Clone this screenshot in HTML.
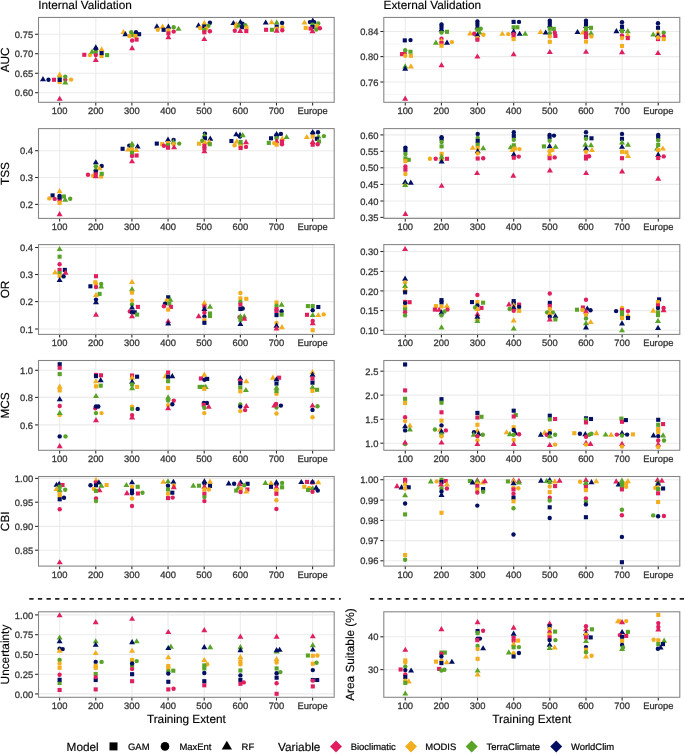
<!DOCTYPE html><html><head><meta charset="utf-8"><style>html,body{margin:0;padding:0;background:#fff;}svg{display:block;will-change:transform;}</style></head><body><svg width="685" height="754" viewBox="0 0 685 754">
<rect width="685" height="754" fill="#fff"/>
<line x1="38.5" x2="334.2" y1="34.26" y2="34.26" stroke="#EBEBEB" stroke-width="1.07"/>
<line x1="38.5" x2="334.2" y1="53.7" y2="53.7" stroke="#EBEBEB" stroke-width="1.07"/>
<line x1="38.5" x2="334.2" y1="73.3" y2="73.3" stroke="#EBEBEB" stroke-width="1.07"/>
<line x1="38.5" x2="334.2" y1="92.7" y2="92.7" stroke="#EBEBEB" stroke-width="1.07"/>
<line x1="59.64" x2="59.64" y1="17.45" y2="102.3" stroke="#EBEBEB" stroke-width="1.07"/>
<line x1="95.78" x2="95.78" y1="17.45" y2="102.3" stroke="#EBEBEB" stroke-width="1.07"/>
<line x1="131.92" x2="131.92" y1="17.45" y2="102.3" stroke="#EBEBEB" stroke-width="1.07"/>
<line x1="168.06" x2="168.06" y1="17.45" y2="102.3" stroke="#EBEBEB" stroke-width="1.07"/>
<line x1="204.20" x2="204.20" y1="17.45" y2="102.3" stroke="#EBEBEB" stroke-width="1.07"/>
<line x1="240.34" x2="240.34" y1="17.45" y2="102.3" stroke="#EBEBEB" stroke-width="1.07"/>
<line x1="276.48" x2="276.48" y1="17.45" y2="102.3" stroke="#EBEBEB" stroke-width="1.07"/>
<line x1="312.62" x2="312.62" y1="17.45" y2="102.3" stroke="#EBEBEB" stroke-width="1.07"/>
<line x1="35.10" x2="38.5" y1="34.26" y2="34.26" stroke="#262626" stroke-width="1.07"/>
<text x="33.10" y="37.86" text-anchor="end" font-size="9.4" fill="#333333" stroke="#333333" stroke-width="0.28" font-family="Liberation Sans, sans-serif" text-rendering="geometricPrecision">0.75</text>
<line x1="35.10" x2="38.5" y1="53.7" y2="53.7" stroke="#262626" stroke-width="1.07"/>
<text x="33.10" y="57.30" text-anchor="end" font-size="9.4" fill="#333333" stroke="#333333" stroke-width="0.28" font-family="Liberation Sans, sans-serif" text-rendering="geometricPrecision">0.70</text>
<line x1="35.10" x2="38.5" y1="73.3" y2="73.3" stroke="#262626" stroke-width="1.07"/>
<text x="33.10" y="76.90" text-anchor="end" font-size="9.4" fill="#333333" stroke="#333333" stroke-width="0.28" font-family="Liberation Sans, sans-serif" text-rendering="geometricPrecision">0.65</text>
<line x1="35.10" x2="38.5" y1="92.7" y2="92.7" stroke="#262626" stroke-width="1.07"/>
<text x="33.10" y="96.30" text-anchor="end" font-size="9.4" fill="#333333" stroke="#333333" stroke-width="0.28" font-family="Liberation Sans, sans-serif" text-rendering="geometricPrecision">0.60</text>
<line x1="59.64" x2="59.64" y1="102.3" y2="105.5" stroke="#262626" stroke-width="1.07"/>
<text x="59.64" y="114.10" text-anchor="middle" font-size="9.4" fill="#333333" stroke="#333333" stroke-width="0.28" font-family="Liberation Sans, sans-serif" text-rendering="geometricPrecision">100</text>
<line x1="95.78" x2="95.78" y1="102.3" y2="105.5" stroke="#262626" stroke-width="1.07"/>
<text x="95.78" y="114.10" text-anchor="middle" font-size="9.4" fill="#333333" stroke="#333333" stroke-width="0.28" font-family="Liberation Sans, sans-serif" text-rendering="geometricPrecision">200</text>
<line x1="131.92" x2="131.92" y1="102.3" y2="105.5" stroke="#262626" stroke-width="1.07"/>
<text x="131.92" y="114.10" text-anchor="middle" font-size="9.4" fill="#333333" stroke="#333333" stroke-width="0.28" font-family="Liberation Sans, sans-serif" text-rendering="geometricPrecision">300</text>
<line x1="168.06" x2="168.06" y1="102.3" y2="105.5" stroke="#262626" stroke-width="1.07"/>
<text x="168.06" y="114.10" text-anchor="middle" font-size="9.4" fill="#333333" stroke="#333333" stroke-width="0.28" font-family="Liberation Sans, sans-serif" text-rendering="geometricPrecision">400</text>
<line x1="204.20" x2="204.20" y1="102.3" y2="105.5" stroke="#262626" stroke-width="1.07"/>
<text x="204.20" y="114.10" text-anchor="middle" font-size="9.4" fill="#333333" stroke="#333333" stroke-width="0.28" font-family="Liberation Sans, sans-serif" text-rendering="geometricPrecision">500</text>
<line x1="240.34" x2="240.34" y1="102.3" y2="105.5" stroke="#262626" stroke-width="1.07"/>
<text x="240.34" y="114.10" text-anchor="middle" font-size="9.4" fill="#333333" stroke="#333333" stroke-width="0.28" font-family="Liberation Sans, sans-serif" text-rendering="geometricPrecision">600</text>
<line x1="276.48" x2="276.48" y1="102.3" y2="105.5" stroke="#262626" stroke-width="1.07"/>
<text x="276.48" y="114.10" text-anchor="middle" font-size="9.4" fill="#333333" stroke="#333333" stroke-width="0.28" font-family="Liberation Sans, sans-serif" text-rendering="geometricPrecision">700</text>
<line x1="312.62" x2="312.62" y1="102.3" y2="105.5" stroke="#262626" stroke-width="1.07"/>
<text x="312.62" y="114.10" text-anchor="middle" font-size="9.4" fill="#333333" stroke="#333333" stroke-width="0.28" font-family="Liberation Sans, sans-serif" text-rendering="geometricPrecision">Europe</text>
<path d="M43.00,76.10L46.00,81.25L40.00,81.25Z" fill="#010F62"/><circle cx="48.5" cy="79.8" r="2.2" fill="#010F62"/><rect x="51.95" y="77.75" width="4.1" height="4.1" fill="#E0205E"/><rect x="57.65" y="75.25" width="4.1" height="4.1" fill="#59A329"/><rect x="57.65" y="79.95" width="4.1" height="4.1" fill="#F2AE1E"/><path d="M59.70,71.50L62.70,76.65L56.70,76.65Z" fill="#F2AE1E"/><rect x="57.65" y="77.85" width="4.1" height="4.1" fill="#010F62"/><circle cx="65.3" cy="79.8" r="2.2" fill="#E0205E"/><circle cx="65.3" cy="76.8" r="2.2" fill="#59A329"/><path d="M65.30,79.30L68.30,84.45L62.30,84.45Z" fill="#59A329"/><circle cx="71.1" cy="79.6" r="2.2" fill="#F2AE1E"/><path d="M59.70,95.70L62.70,100.85L56.70,100.85Z" fill="#E0205E"/><rect x="82.25" y="52.75" width="4.1" height="4.1" fill="#E0205E"/><circle cx="89.9" cy="55.1" r="2.2" fill="#F2AE1E"/><path d="M92.10,48.50L95.10,53.65L89.10,53.65Z" fill="#59A329"/><path d="M95.80,44.30L98.80,49.45L92.80,49.45Z" fill="#010F62"/><circle cx="95.8" cy="49.0" r="2.2" fill="#010F62"/><rect x="93.75" y="50.45" width="4.1" height="4.1" fill="#59A329"/><circle cx="95.8" cy="55.1" r="2.2" fill="#E0205E"/><path d="M95.80,56.80L98.80,61.95L92.80,61.95Z" fill="#E0205E"/><path d="M101.60,46.30L104.60,51.45L98.60,51.45Z" fill="#F2AE1E"/><rect x="99.55" y="53.95" width="4.1" height="4.1" fill="#F2AE1E"/><rect x="99.55" y="51.05" width="4.1" height="4.1" fill="#010F62"/><rect x="105.05" y="53.05" width="4.1" height="4.1" fill="#59A329"/><path d="M123.50,28.90L126.50,34.05L120.50,34.05Z" fill="#F2AE1E"/><path d="M125.40,31.10L128.40,36.25L122.40,36.25Z" fill="#010F62"/><circle cx="131.2" cy="32.3" r="2.2" fill="#59A329"/><rect x="130.45" y="32.95" width="4.1" height="4.1" fill="#59A329"/><circle cx="129.4" cy="36.0" r="2.2" fill="#F2AE1E"/><circle cx="136.0" cy="32.3" r="2.2" fill="#010F62"/><rect x="137.05" y="32.15" width="4.1" height="4.1" fill="#010F62"/><rect x="133.35" y="33.95" width="4.1" height="4.1" fill="#F2AE1E"/><rect x="134.55" y="37.55" width="4.1" height="4.1" fill="#E0205E"/><circle cx="132.1" cy="40.5" r="2.2" fill="#E0205E"/><path d="M132.10,45.00L135.10,50.15L129.10,50.15Z" fill="#E0205E"/><path d="M156.90,23.30L159.90,28.45L153.90,28.45Z" fill="#010F62"/><circle cx="157.8" cy="29.8" r="2.2" fill="#F2AE1E"/><path d="M162.60,23.60L165.60,28.75L159.60,28.75Z" fill="#F2AE1E"/><rect x="161.55" y="27.75" width="4.1" height="4.1" fill="#010F62"/><path d="M168.40,23.60L171.40,28.75L165.40,28.75Z" fill="#010F62"/><rect x="166.35" y="28.35" width="4.1" height="4.1" fill="#F2AE1E"/><rect x="166.35" y="31.35" width="4.1" height="4.1" fill="#E0205E"/><path d="M168.40,34.00L171.40,39.15L165.40,39.15Z" fill="#E0205E"/><circle cx="173.7" cy="27.2" r="2.2" fill="#59A329"/><circle cx="173.7" cy="31.6" r="2.2" fill="#E0205E"/><path d="M178.50,25.70L181.50,30.85L175.50,30.85Z" fill="#59A329"/><path d="M198.50,22.30L201.50,27.45L195.50,27.45Z" fill="#010F62"/><path d="M204.30,20.10L207.30,25.25L201.30,25.25Z" fill="#F2AE1E"/><circle cx="209.9" cy="22.8" r="2.2" fill="#010F62"/><rect x="198.35" y="25.95" width="4.1" height="4.1" fill="#F2AE1E"/><rect x="202.25" y="24.45" width="4.1" height="4.1" fill="#010F62"/><circle cx="208.4" cy="25.8" r="2.2" fill="#59A329"/><circle cx="206.2" cy="28.4" r="2.2" fill="#F2AE1E"/><rect x="202.25" y="28.05" width="4.1" height="4.1" fill="#59A329"/><rect x="202.25" y="30.25" width="4.1" height="4.1" fill="#E0205E"/><circle cx="209.9" cy="31.2" r="2.2" fill="#E0205E"/><path d="M204.30,35.90L207.30,41.05L201.30,41.05Z" fill="#E0205E"/><path d="M233.40,19.90L236.40,25.05L230.40,25.05Z" fill="#010F62"/><path d="M236.30,20.90L239.30,26.05L233.30,26.05Z" fill="#F2AE1E"/><path d="M240.40,18.90L243.40,24.05L237.40,24.05Z" fill="#010F62"/><circle cx="242.4" cy="23.6" r="2.2" fill="#010F62"/><rect x="234.25" y="24.65" width="4.1" height="4.1" fill="#F2AE1E"/><path d="M238.90,22.30L241.90,27.45L235.90,27.45Z" fill="#59A329"/><circle cx="245.3" cy="25.2" r="2.2" fill="#59A329"/><rect x="239.85" y="25.15" width="4.1" height="4.1" fill="#010F62"/><rect x="244.45" y="25.65" width="4.1" height="4.1" fill="#F2AE1E"/><circle cx="234.8" cy="30.8" r="2.2" fill="#E0205E"/><path d="M240.20,27.80L243.20,32.95L237.20,32.95Z" fill="#E0205E"/><rect x="244.25" y="29.05" width="4.1" height="4.1" fill="#E0205E"/><path d="M265.70,19.40L268.70,24.55L262.70,24.55Z" fill="#010F62"/><path d="M271.60,19.20L274.60,24.35L268.60,24.35Z" fill="#F2AE1E"/><path d="M276.70,19.40L279.70,24.55L273.70,24.55Z" fill="#59A329"/><circle cx="282.1" cy="22.9" r="2.2" fill="#010F62"/><rect x="274.65" y="24.65" width="4.1" height="4.1" fill="#010F62"/><circle cx="282.3" cy="27.2" r="2.2" fill="#F2AE1E"/><rect x="264.05" y="27.75" width="4.1" height="4.1" fill="#E0205E"/><rect x="269.85" y="27.75" width="4.1" height="4.1" fill="#59A329"/><rect x="274.65" y="26.75" width="4.1" height="4.1" fill="#F2AE1E"/><path d="M276.70,27.60L279.70,32.75L273.70,32.75Z" fill="#E0205E"/><circle cx="282.3" cy="30.3" r="2.2" fill="#E0205E"/><path d="M304.50,19.40L307.50,24.55L301.50,24.55Z" fill="#F2AE1E"/><rect x="303.65" y="25.85" width="4.1" height="4.1" fill="#F2AE1E"/><circle cx="309.9" cy="22.1" r="2.2" fill="#010F62"/><path d="M312.80,17.50L315.80,22.65L309.80,22.65Z" fill="#010F62"/><circle cx="314.1" cy="22.1" r="2.2" fill="#010F62"/><rect x="310.45" y="22.65" width="4.1" height="4.1" fill="#59A329"/><rect x="310.45" y="24.95" width="4.1" height="4.1" fill="#010F62"/><rect x="308.55" y="26.55" width="4.1" height="4.1" fill="#E0205E"/><path d="M312.50,28.10L315.50,33.25L309.50,33.25Z" fill="#E0205E"/><circle cx="318.3" cy="23.4" r="2.2" fill="#59A329"/><circle cx="317.0" cy="26.0" r="2.2" fill="#F2AE1E"/><circle cx="316.3" cy="29.5" r="2.2" fill="#59A329"/><circle cx="319.9" cy="28.2" r="2.2" fill="#E0205E"/>
<rect x="38.5" y="17.45" width="295.70" height="84.85" fill="none" stroke="#858585" stroke-width="1.07"/>
<line x1="383.8" x2="679.8" y1="44.05" y2="44.05" stroke="#EBEBEB" stroke-width="0.55"/>
<line x1="383.8" x2="679.8" y1="69.3" y2="69.3" stroke="#EBEBEB" stroke-width="0.55"/>
<line x1="383.8" x2="679.8" y1="94.4" y2="94.4" stroke="#EBEBEB" stroke-width="0.55"/>
<line x1="383.8" x2="679.8" y1="31.5" y2="31.5" stroke="#EBEBEB" stroke-width="1.07"/>
<line x1="383.8" x2="679.8" y1="56.6" y2="56.6" stroke="#EBEBEB" stroke-width="1.07"/>
<line x1="383.8" x2="679.8" y1="82.0" y2="82.0" stroke="#EBEBEB" stroke-width="1.07"/>
<line x1="405.28" x2="405.28" y1="17.45" y2="102.3" stroke="#EBEBEB" stroke-width="1.07"/>
<line x1="441.42" x2="441.42" y1="17.45" y2="102.3" stroke="#EBEBEB" stroke-width="1.07"/>
<line x1="477.56" x2="477.56" y1="17.45" y2="102.3" stroke="#EBEBEB" stroke-width="1.07"/>
<line x1="513.70" x2="513.70" y1="17.45" y2="102.3" stroke="#EBEBEB" stroke-width="1.07"/>
<line x1="549.84" x2="549.84" y1="17.45" y2="102.3" stroke="#EBEBEB" stroke-width="1.07"/>
<line x1="585.98" x2="585.98" y1="17.45" y2="102.3" stroke="#EBEBEB" stroke-width="1.07"/>
<line x1="622.12" x2="622.12" y1="17.45" y2="102.3" stroke="#EBEBEB" stroke-width="1.07"/>
<line x1="658.26" x2="658.26" y1="17.45" y2="102.3" stroke="#EBEBEB" stroke-width="1.07"/>
<line x1="380.40" x2="383.8" y1="31.5" y2="31.5" stroke="#262626" stroke-width="1.07"/>
<text x="378.40" y="35.10" text-anchor="end" font-size="9.4" fill="#333333" stroke="#333333" stroke-width="0.28" font-family="Liberation Sans, sans-serif" text-rendering="geometricPrecision">0.84</text>
<line x1="380.40" x2="383.8" y1="56.6" y2="56.6" stroke="#262626" stroke-width="1.07"/>
<text x="378.40" y="60.20" text-anchor="end" font-size="9.4" fill="#333333" stroke="#333333" stroke-width="0.28" font-family="Liberation Sans, sans-serif" text-rendering="geometricPrecision">0.80</text>
<line x1="380.40" x2="383.8" y1="82.0" y2="82.0" stroke="#262626" stroke-width="1.07"/>
<text x="378.40" y="85.60" text-anchor="end" font-size="9.4" fill="#333333" stroke="#333333" stroke-width="0.28" font-family="Liberation Sans, sans-serif" text-rendering="geometricPrecision">0.76</text>
<line x1="405.28" x2="405.28" y1="102.3" y2="105.5" stroke="#262626" stroke-width="1.07"/>
<text x="405.28" y="114.10" text-anchor="middle" font-size="9.4" fill="#333333" stroke="#333333" stroke-width="0.28" font-family="Liberation Sans, sans-serif" text-rendering="geometricPrecision">100</text>
<line x1="441.42" x2="441.42" y1="102.3" y2="105.5" stroke="#262626" stroke-width="1.07"/>
<text x="441.42" y="114.10" text-anchor="middle" font-size="9.4" fill="#333333" stroke="#333333" stroke-width="0.28" font-family="Liberation Sans, sans-serif" text-rendering="geometricPrecision">200</text>
<line x1="477.56" x2="477.56" y1="102.3" y2="105.5" stroke="#262626" stroke-width="1.07"/>
<text x="477.56" y="114.10" text-anchor="middle" font-size="9.4" fill="#333333" stroke="#333333" stroke-width="0.28" font-family="Liberation Sans, sans-serif" text-rendering="geometricPrecision">300</text>
<line x1="513.70" x2="513.70" y1="102.3" y2="105.5" stroke="#262626" stroke-width="1.07"/>
<text x="513.70" y="114.10" text-anchor="middle" font-size="9.4" fill="#333333" stroke="#333333" stroke-width="0.28" font-family="Liberation Sans, sans-serif" text-rendering="geometricPrecision">400</text>
<line x1="549.84" x2="549.84" y1="102.3" y2="105.5" stroke="#262626" stroke-width="1.07"/>
<text x="549.84" y="114.10" text-anchor="middle" font-size="9.4" fill="#333333" stroke="#333333" stroke-width="0.28" font-family="Liberation Sans, sans-serif" text-rendering="geometricPrecision">500</text>
<line x1="585.98" x2="585.98" y1="102.3" y2="105.5" stroke="#262626" stroke-width="1.07"/>
<text x="585.98" y="114.10" text-anchor="middle" font-size="9.4" fill="#333333" stroke="#333333" stroke-width="0.28" font-family="Liberation Sans, sans-serif" text-rendering="geometricPrecision">600</text>
<line x1="622.12" x2="622.12" y1="102.3" y2="105.5" stroke="#262626" stroke-width="1.07"/>
<text x="622.12" y="114.10" text-anchor="middle" font-size="9.4" fill="#333333" stroke="#333333" stroke-width="0.28" font-family="Liberation Sans, sans-serif" text-rendering="geometricPrecision">700</text>
<line x1="658.26" x2="658.26" y1="102.3" y2="105.5" stroke="#262626" stroke-width="1.07"/>
<text x="658.26" y="114.10" text-anchor="middle" font-size="9.4" fill="#333333" stroke="#333333" stroke-width="0.28" font-family="Liberation Sans, sans-serif" text-rendering="geometricPrecision">Europe</text>
<rect x="402.75" y="38.35" width="4.1" height="4.1" fill="#010F62"/><circle cx="410.5" cy="40.1" r="2.2" fill="#010F62"/><rect x="399.95" y="52.05" width="4.1" height="4.1" fill="#E0205E"/><circle cx="404.8" cy="53.5" r="2.2" fill="#E0205E"/><circle cx="405.2" cy="50.3" r="2.2" fill="#59A329"/><rect x="408.45" y="49.75" width="4.1" height="4.1" fill="#59A329"/><circle cx="405.2" cy="55.8" r="2.2" fill="#F2AE1E"/><rect x="408.85" y="53.75" width="4.1" height="4.1" fill="#F2AE1E"/><path d="M405.20,63.30L408.20,68.45L402.20,68.45Z" fill="#59A329"/><path d="M405.20,65.60L408.20,70.75L402.20,70.75Z" fill="#010F62"/><path d="M410.90,63.30L413.90,68.45L407.90,68.45Z" fill="#F2AE1E"/><path d="M405.20,95.50L408.20,100.65L402.20,100.65Z" fill="#E0205E"/><circle cx="441.5" cy="24.4" r="2.2" fill="#010F62"/><rect x="439.45" y="25.25" width="4.1" height="4.1" fill="#010F62"/><path d="M441.50,26.30L444.50,31.45L438.50,31.45Z" fill="#010F62"/><circle cx="441.5" cy="32.6" r="2.2" fill="#59A329"/><rect x="444.95" y="29.75" width="4.1" height="4.1" fill="#59A329"/><circle cx="441.5" cy="38.7" r="2.2" fill="#E0205E"/><path d="M441.50,37.70L444.50,42.85L438.50,42.85Z" fill="#F2AE1E"/><path d="M435.90,39.60L438.90,44.75L432.90,44.75Z" fill="#59A329"/><rect x="439.45" y="40.95" width="4.1" height="4.1" fill="#E0205E"/><path d="M447.00,39.60L450.00,44.75L444.00,44.75Z" fill="#010F62"/><circle cx="451.9" cy="42.1" r="2.2" fill="#F2AE1E"/><rect x="439.45" y="43.65" width="4.1" height="4.1" fill="#F2AE1E"/><path d="M441.50,62.00L444.50,67.15L438.50,67.15Z" fill="#E0205E"/><circle cx="477.4" cy="21.5" r="2.2" fill="#010F62"/><rect x="475.35" y="22.55" width="4.1" height="4.1" fill="#010F62"/><path d="M477.40,24.00L480.40,29.15L474.40,29.15Z" fill="#010F62"/><rect x="475.35" y="27.65" width="4.1" height="4.1" fill="#59A329"/><circle cx="480.7" cy="28.7" r="2.2" fill="#59A329"/><path d="M479.60,29.40L482.60,34.55L476.60,34.55Z" fill="#59A329"/><path d="M470.10,30.30L473.10,35.45L467.10,35.45Z" fill="#F2AE1E"/><circle cx="474.2" cy="33.7" r="2.2" fill="#E0205E"/><path d="M477.40,31.80L480.40,36.95L474.40,36.95Z" fill="#010F62"/><circle cx="483.4" cy="34.8" r="2.2" fill="#F2AE1E"/><rect x="475.35" y="36.05" width="4.1" height="4.1" fill="#F2AE1E"/><rect x="475.35" y="37.65" width="4.1" height="4.1" fill="#E0205E"/><path d="M477.40,53.40L480.40,58.55L474.40,58.55Z" fill="#E0205E"/><rect x="511.55" y="19.85" width="4.1" height="4.1" fill="#010F62"/><circle cx="519.0" cy="21.9" r="2.2" fill="#010F62"/><rect x="511.55" y="25.25" width="4.1" height="4.1" fill="#59A329"/><rect x="515.35" y="25.25" width="4.1" height="4.1" fill="#59A329"/><path d="M513.60,28.30L516.60,33.45L510.60,33.45Z" fill="#010F62"/><path d="M502.30,30.70L505.30,35.85L499.30,35.85Z" fill="#F2AE1E"/><circle cx="508.2" cy="34.1" r="2.2" fill="#F2AE1E"/><rect x="511.55" y="33.85" width="4.1" height="4.1" fill="#E0205E"/><rect x="511.55" y="37.05" width="4.1" height="4.1" fill="#F2AE1E"/><circle cx="513.6" cy="34.3" r="2.2" fill="#E0205E"/><path d="M519.60,30.70L522.60,35.85L516.60,35.85Z" fill="#010F62"/><path d="M525.20,30.70L528.20,35.85L522.20,35.85Z" fill="#59A329"/><path d="M513.60,51.20L516.60,56.35L510.60,56.35Z" fill="#E0205E"/><circle cx="549.8" cy="20.8" r="2.2" fill="#010F62"/><rect x="547.75" y="21.45" width="4.1" height="4.1" fill="#010F62"/><path d="M549.80,22.40L552.80,27.55L546.80,27.55Z" fill="#010F62"/><rect x="547.75" y="26.65" width="4.1" height="4.1" fill="#59A329"/><rect x="551.75" y="26.85" width="4.1" height="4.1" fill="#59A329"/><path d="M540.50,28.90L543.50,34.05L537.50,34.05Z" fill="#F2AE1E"/><path d="M545.70,29.40L548.70,34.55L542.70,34.55Z" fill="#010F62"/><circle cx="549.8" cy="33.2" r="2.2" fill="#59A329"/><circle cx="554.8" cy="32.7" r="2.2" fill="#E0205E"/><rect x="553.35" y="33.85" width="4.1" height="4.1" fill="#E0205E"/><circle cx="549.8" cy="36.4" r="2.2" fill="#F2AE1E"/><rect x="547.75" y="39.75" width="4.1" height="4.1" fill="#F2AE1E"/><path d="M549.80,48.90L552.80,54.05L546.80,54.05Z" fill="#E0205E"/><circle cx="586.0" cy="20.8" r="2.2" fill="#010F62"/><rect x="583.95" y="21.95" width="4.1" height="4.1" fill="#010F62"/><path d="M586.00,22.90L589.00,28.05L583.00,28.05Z" fill="#010F62"/><rect x="583.95" y="26.25" width="4.1" height="4.1" fill="#59A329"/><rect x="588.95" y="25.75" width="4.1" height="4.1" fill="#59A329"/><path d="M577.50,28.90L580.50,34.05L574.50,34.05Z" fill="#010F62"/><path d="M582.90,29.40L585.90,34.55L579.90,34.55Z" fill="#F2AE1E"/><path d="M591.00,30.00L594.00,35.15L588.00,35.15Z" fill="#59A329"/><circle cx="586.0" cy="31.5" r="2.2" fill="#59A329"/><circle cx="586.0" cy="33.2" r="2.2" fill="#E0205E"/><rect x="583.95" y="33.45" width="4.1" height="4.1" fill="#E0205E"/><rect x="583.95" y="34.95" width="4.1" height="4.1" fill="#E0205E"/><circle cx="591.4" cy="36.4" r="2.2" fill="#F2AE1E"/><rect x="583.95" y="39.55" width="4.1" height="4.1" fill="#F2AE1E"/><path d="M586.00,48.70L589.00,53.85L583.00,53.85Z" fill="#E0205E"/><circle cx="622.0" cy="22.2" r="2.2" fill="#010F62"/><rect x="619.95" y="24.65" width="4.1" height="4.1" fill="#010F62"/><path d="M622.00,25.80L625.00,30.95L619.00,30.95Z" fill="#010F62"/><rect x="619.95" y="28.95" width="4.1" height="4.1" fill="#59A329"/><path d="M616.40,28.10L619.40,33.25L613.40,33.25Z" fill="#010F62"/><path d="M627.80,28.10L630.80,33.25L624.80,33.25Z" fill="#59A329"/><circle cx="622.0" cy="35.4" r="2.2" fill="#E0205E"/><circle cx="622.0" cy="38.1" r="2.2" fill="#F2AE1E"/><path d="M627.80,32.10L630.80,37.25L624.80,37.25Z" fill="#F2AE1E"/><rect x="625.75" y="36.05" width="4.1" height="4.1" fill="#E0205E"/><rect x="619.95" y="43.95" width="4.1" height="4.1" fill="#F2AE1E"/><path d="M622.00,49.10L625.00,54.25L619.00,54.25Z" fill="#E0205E"/><circle cx="658.0" cy="23.3" r="2.2" fill="#010F62"/><rect x="655.95" y="25.75" width="4.1" height="4.1" fill="#010F62"/><path d="M653.20,31.40L656.20,36.55L650.20,36.55Z" fill="#59A329"/><path d="M658.00,29.40L661.00,34.55L655.00,34.55Z" fill="#F2AE1E"/><path d="M658.00,32.10L661.00,37.25L655.00,37.25Z" fill="#010F62"/><circle cx="663.7" cy="32.7" r="2.2" fill="#59A329"/><circle cx="663.7" cy="36.4" r="2.2" fill="#E0205E"/><rect x="661.65" y="37.05" width="4.1" height="4.1" fill="#F2AE1E"/><rect x="655.95" y="37.05" width="4.1" height="4.1" fill="#E0205E"/><circle cx="658.0" cy="37.5" r="2.2" fill="#F2AE1E"/><path d="M658.00,49.90L661.00,55.05L655.00,55.05Z" fill="#E0205E"/>
<rect x="383.8" y="17.45" width="296.00" height="84.85" fill="none" stroke="#858585" stroke-width="1.07"/>
<text transform="translate(8.8,59.88) rotate(-90)" text-anchor="middle" font-size="11.8" fill="#000" stroke="#000" stroke-width="0.15" font-family="Liberation Sans, sans-serif" text-rendering="geometricPrecision">AUC</text>
<line x1="38.5" x2="334.2" y1="150.7" y2="150.7" stroke="#EBEBEB" stroke-width="1.07"/>
<line x1="38.5" x2="334.2" y1="177.5" y2="177.5" stroke="#EBEBEB" stroke-width="1.07"/>
<line x1="38.5" x2="334.2" y1="204.4" y2="204.4" stroke="#EBEBEB" stroke-width="1.07"/>
<line x1="59.64" x2="59.64" y1="128.6" y2="218.4" stroke="#EBEBEB" stroke-width="1.07"/>
<line x1="95.78" x2="95.78" y1="128.6" y2="218.4" stroke="#EBEBEB" stroke-width="1.07"/>
<line x1="131.92" x2="131.92" y1="128.6" y2="218.4" stroke="#EBEBEB" stroke-width="1.07"/>
<line x1="168.06" x2="168.06" y1="128.6" y2="218.4" stroke="#EBEBEB" stroke-width="1.07"/>
<line x1="204.20" x2="204.20" y1="128.6" y2="218.4" stroke="#EBEBEB" stroke-width="1.07"/>
<line x1="240.34" x2="240.34" y1="128.6" y2="218.4" stroke="#EBEBEB" stroke-width="1.07"/>
<line x1="276.48" x2="276.48" y1="128.6" y2="218.4" stroke="#EBEBEB" stroke-width="1.07"/>
<line x1="312.62" x2="312.62" y1="128.6" y2="218.4" stroke="#EBEBEB" stroke-width="1.07"/>
<line x1="35.10" x2="38.5" y1="150.7" y2="150.7" stroke="#262626" stroke-width="1.07"/>
<text x="33.10" y="154.30" text-anchor="end" font-size="9.4" fill="#333333" stroke="#333333" stroke-width="0.28" font-family="Liberation Sans, sans-serif" text-rendering="geometricPrecision">0.4</text>
<line x1="35.10" x2="38.5" y1="177.5" y2="177.5" stroke="#262626" stroke-width="1.07"/>
<text x="33.10" y="181.10" text-anchor="end" font-size="9.4" fill="#333333" stroke="#333333" stroke-width="0.28" font-family="Liberation Sans, sans-serif" text-rendering="geometricPrecision">0.3</text>
<line x1="35.10" x2="38.5" y1="204.4" y2="204.4" stroke="#262626" stroke-width="1.07"/>
<text x="33.10" y="208.00" text-anchor="end" font-size="9.4" fill="#333333" stroke="#333333" stroke-width="0.28" font-family="Liberation Sans, sans-serif" text-rendering="geometricPrecision">0.2</text>
<line x1="59.64" x2="59.64" y1="218.4" y2="221.6" stroke="#262626" stroke-width="1.07"/>
<text x="59.64" y="230.20" text-anchor="middle" font-size="9.4" fill="#333333" stroke="#333333" stroke-width="0.28" font-family="Liberation Sans, sans-serif" text-rendering="geometricPrecision">100</text>
<line x1="95.78" x2="95.78" y1="218.4" y2="221.6" stroke="#262626" stroke-width="1.07"/>
<text x="95.78" y="230.20" text-anchor="middle" font-size="9.4" fill="#333333" stroke="#333333" stroke-width="0.28" font-family="Liberation Sans, sans-serif" text-rendering="geometricPrecision">200</text>
<line x1="131.92" x2="131.92" y1="218.4" y2="221.6" stroke="#262626" stroke-width="1.07"/>
<text x="131.92" y="230.20" text-anchor="middle" font-size="9.4" fill="#333333" stroke="#333333" stroke-width="0.28" font-family="Liberation Sans, sans-serif" text-rendering="geometricPrecision">300</text>
<line x1="168.06" x2="168.06" y1="218.4" y2="221.6" stroke="#262626" stroke-width="1.07"/>
<text x="168.06" y="230.20" text-anchor="middle" font-size="9.4" fill="#333333" stroke="#333333" stroke-width="0.28" font-family="Liberation Sans, sans-serif" text-rendering="geometricPrecision">400</text>
<line x1="204.20" x2="204.20" y1="218.4" y2="221.6" stroke="#262626" stroke-width="1.07"/>
<text x="204.20" y="230.20" text-anchor="middle" font-size="9.4" fill="#333333" stroke="#333333" stroke-width="0.28" font-family="Liberation Sans, sans-serif" text-rendering="geometricPrecision">500</text>
<line x1="240.34" x2="240.34" y1="218.4" y2="221.6" stroke="#262626" stroke-width="1.07"/>
<text x="240.34" y="230.20" text-anchor="middle" font-size="9.4" fill="#333333" stroke="#333333" stroke-width="0.28" font-family="Liberation Sans, sans-serif" text-rendering="geometricPrecision">600</text>
<line x1="276.48" x2="276.48" y1="218.4" y2="221.6" stroke="#262626" stroke-width="1.07"/>
<text x="276.48" y="230.20" text-anchor="middle" font-size="9.4" fill="#333333" stroke="#333333" stroke-width="0.28" font-family="Liberation Sans, sans-serif" text-rendering="geometricPrecision">700</text>
<line x1="312.62" x2="312.62" y1="218.4" y2="221.6" stroke="#262626" stroke-width="1.07"/>
<text x="312.62" y="230.20" text-anchor="middle" font-size="9.4" fill="#333333" stroke="#333333" stroke-width="0.28" font-family="Liberation Sans, sans-serif" text-rendering="geometricPrecision">Europe</text>
<path d="M59.60,188.10L62.60,193.25L56.60,193.25Z" fill="#F2AE1E"/><rect x="50.55" y="193.35" width="4.1" height="4.1" fill="#010F62"/><circle cx="49.3" cy="198.4" r="2.2" fill="#F2AE1E"/><circle cx="54.7" cy="198.9" r="2.2" fill="#E0205E"/><circle cx="59.6" cy="195.9" r="2.2" fill="#010F62"/><rect x="57.55" y="197.85" width="4.1" height="4.1" fill="#E0205E"/><rect x="57.55" y="200.85" width="4.1" height="4.1" fill="#F2AE1E"/><rect x="57.55" y="195.45" width="4.1" height="4.1" fill="#010F62"/><rect x="61.85" y="194.45" width="4.1" height="4.1" fill="#59A329"/><path d="M65.20,196.50L68.20,201.65L62.20,201.65Z" fill="#59A329"/><circle cx="70.2" cy="198.8" r="2.2" fill="#59A329"/><path d="M59.60,211.00L62.60,216.15L56.60,216.15Z" fill="#E0205E"/><path d="M95.80,159.20L98.80,164.35L92.80,164.35Z" fill="#010F62"/><circle cx="95.8" cy="166.2" r="2.2" fill="#59A329"/><path d="M95.80,166.20L98.80,171.35L92.80,171.35Z" fill="#59A329"/><circle cx="101.7" cy="166.0" r="2.2" fill="#010F62"/><path d="M99.60,165.10L102.60,170.25L96.60,170.25Z" fill="#F2AE1E"/><rect x="93.75" y="169.55" width="4.1" height="4.1" fill="#010F62"/><circle cx="88.0" cy="174.8" r="2.2" fill="#E0205E"/><circle cx="93.1" cy="175.7" r="2.2" fill="#F2AE1E"/><rect x="93.75" y="172.25" width="4.1" height="4.1" fill="#E0205E"/><path d="M95.80,173.20L98.80,178.35L92.80,178.35Z" fill="#E0205E"/><rect x="99.15" y="174.45" width="4.1" height="4.1" fill="#F2AE1E"/><rect x="99.65" y="171.75" width="4.1" height="4.1" fill="#59A329"/><rect x="120.55" y="146.75" width="4.1" height="4.1" fill="#010F62"/><circle cx="129.3" cy="145.6" r="2.2" fill="#010F62"/><path d="M132.00,140.70L135.00,145.85L129.00,145.85Z" fill="#59A329"/><circle cx="132.0" cy="145.8" r="2.2" fill="#59A329"/><path d="M137.60,143.30L140.60,148.45L134.60,148.45Z" fill="#010F62"/><path d="M128.20,146.30L131.20,151.45L125.20,151.45Z" fill="#F2AE1E"/><rect x="129.95" y="147.55" width="4.1" height="4.1" fill="#F2AE1E"/><path d="M136.30,146.90L139.30,152.05L133.30,152.05Z" fill="#F2AE1E"/><rect x="129.95" y="150.75" width="4.1" height="4.1" fill="#59A329"/><circle cx="132.0" cy="156.1" r="2.2" fill="#E0205E"/><rect x="134.55" y="153.45" width="4.1" height="4.1" fill="#E0205E"/><path d="M132.00,158.20L135.00,163.35L129.00,163.35Z" fill="#E0205E"/><rect x="154.75" y="141.55" width="4.1" height="4.1" fill="#010F62"/><rect x="160.15" y="142.15" width="4.1" height="4.1" fill="#F2AE1E"/><circle cx="163.9" cy="145.8" r="2.2" fill="#E0205E"/><path d="M168.00,136.60L171.00,141.75L165.00,141.75Z" fill="#010F62"/><circle cx="173.6" cy="139.9" r="2.2" fill="#010F62"/><rect x="165.95" y="141.05" width="4.1" height="4.1" fill="#F2AE1E"/><rect x="165.95" y="143.25" width="4.1" height="4.1" fill="#59A329"/><rect x="165.95" y="145.65" width="4.1" height="4.1" fill="#E0205E"/><path d="M173.40,138.80L176.40,143.95L170.40,143.95Z" fill="#59A329"/><circle cx="173.6" cy="144.2" r="2.2" fill="#F2AE1E"/><path d="M174.10,144.20L177.10,149.35L171.10,149.35Z" fill="#E0205E"/><circle cx="179.2" cy="143.6" r="2.2" fill="#59A329"/><circle cx="204.9" cy="133.6" r="2.2" fill="#010F62"/><path d="M204.40,132.30L207.40,137.45L201.40,137.45Z" fill="#59A329"/><rect x="202.85" y="136.25" width="4.1" height="4.1" fill="#010F62"/><path d="M210.30,135.60L213.30,140.75L207.30,140.75Z" fill="#010F62"/><circle cx="202.2" cy="140.7" r="2.2" fill="#59A329"/><rect x="196.95" y="141.65" width="4.1" height="4.1" fill="#F2AE1E"/><path d="M204.90,139.30L207.90,144.45L201.90,144.45Z" fill="#F2AE1E"/><path d="M209.20,138.80L212.20,143.95L206.20,143.95Z" fill="#F2AE1E"/><rect x="207.75" y="142.15" width="4.1" height="4.1" fill="#59A329"/><rect x="202.35" y="143.75" width="4.1" height="4.1" fill="#E0205E"/><rect x="202.35" y="146.45" width="4.1" height="4.1" fill="#E0205E"/><path d="M204.40,148.20L207.40,153.35L201.40,153.35Z" fill="#E0205E"/><path d="M236.20,131.20L239.20,136.35L233.20,136.35Z" fill="#010F62"/><path d="M240.00,131.80L243.00,136.95L237.00,136.95Z" fill="#010F62"/><circle cx="240.0" cy="136.6" r="2.2" fill="#010F62"/><path d="M242.70,132.00L245.70,137.15L239.70,137.15Z" fill="#59A329"/><rect x="229.35" y="138.95" width="4.1" height="4.1" fill="#010F62"/><path d="M236.80,138.30L239.80,143.45L233.80,143.45Z" fill="#F2AE1E"/><circle cx="234.6" cy="145.3" r="2.2" fill="#F2AE1E"/><rect x="238.55" y="139.95" width="4.1" height="4.1" fill="#59A329"/><circle cx="240.6" cy="144.2" r="2.2" fill="#59A329"/><rect x="238.55" y="144.35" width="4.1" height="4.1" fill="#F2AE1E"/><rect x="238.55" y="145.95" width="4.1" height="4.1" fill="#E0205E"/><path d="M246.00,139.10L249.00,144.25L243.00,144.25Z" fill="#E0205E"/><circle cx="246.0" cy="146.9" r="2.2" fill="#E0205E"/><path d="M276.60,130.90L279.60,136.05L273.60,136.05Z" fill="#010F62"/><circle cx="280.9" cy="133.9" r="2.2" fill="#010F62"/><rect x="274.55" y="133.55" width="4.1" height="4.1" fill="#010F62"/><path d="M286.60,133.90L289.60,139.05L283.60,139.05Z" fill="#59A329"/><rect x="268.95" y="136.25" width="4.1" height="4.1" fill="#010F62"/><circle cx="276.6" cy="138.3" r="2.2" fill="#59A329"/><path d="M282.30,135.60L285.30,140.75L279.30,140.75Z" fill="#F2AE1E"/><rect x="266.75" y="140.85" width="4.1" height="4.1" fill="#59A329"/><path d="M276.60,138.00L279.60,143.15L273.60,143.15Z" fill="#E0205E"/><circle cx="274.2" cy="143.1" r="2.2" fill="#F2AE1E"/><rect x="274.55" y="142.65" width="4.1" height="4.1" fill="#F2AE1E"/><rect x="279.95" y="139.45" width="4.1" height="4.1" fill="#E0205E"/><circle cx="282.0" cy="144.2" r="2.2" fill="#E0205E"/><path d="M312.70,129.10L315.70,134.25L309.70,134.25Z" fill="#010F62"/><circle cx="312.7" cy="132.9" r="2.2" fill="#010F62"/><circle cx="318.0" cy="132.3" r="2.2" fill="#010F62"/><path d="M306.80,133.90L309.80,139.05L303.80,139.05Z" fill="#F2AE1E"/><rect x="310.65" y="134.55" width="4.1" height="4.1" fill="#F2AE1E"/><path d="M318.50,133.40L321.50,138.55L315.50,138.55Z" fill="#59A329"/><circle cx="323.9" cy="136.1" r="2.2" fill="#59A329"/><rect x="314.85" y="136.75" width="4.1" height="4.1" fill="#010F62"/><rect x="316.95" y="139.45" width="4.1" height="4.1" fill="#59A329"/><path d="M312.70,138.80L315.70,143.95L309.70,143.95Z" fill="#E0205E"/><rect x="310.65" y="142.65" width="4.1" height="4.1" fill="#E0205E"/><circle cx="317.7" cy="144.2" r="2.2" fill="#E0205E"/>
<rect x="38.5" y="128.6" width="295.70" height="89.80" fill="none" stroke="#858585" stroke-width="1.07"/>
<line x1="383.8" x2="679.8" y1="134.9" y2="134.9" stroke="#EBEBEB" stroke-width="1.07"/>
<line x1="383.8" x2="679.8" y1="151.3" y2="151.3" stroke="#EBEBEB" stroke-width="1.07"/>
<line x1="383.8" x2="679.8" y1="167.8" y2="167.8" stroke="#EBEBEB" stroke-width="1.07"/>
<line x1="383.8" x2="679.8" y1="184.4" y2="184.4" stroke="#EBEBEB" stroke-width="1.07"/>
<line x1="383.8" x2="679.8" y1="201.0" y2="201.0" stroke="#EBEBEB" stroke-width="1.07"/>
<line x1="383.8" x2="679.8" y1="217.4" y2="217.4" stroke="#EBEBEB" stroke-width="1.07"/>
<line x1="405.28" x2="405.28" y1="128.6" y2="218.4" stroke="#EBEBEB" stroke-width="1.07"/>
<line x1="441.42" x2="441.42" y1="128.6" y2="218.4" stroke="#EBEBEB" stroke-width="1.07"/>
<line x1="477.56" x2="477.56" y1="128.6" y2="218.4" stroke="#EBEBEB" stroke-width="1.07"/>
<line x1="513.70" x2="513.70" y1="128.6" y2="218.4" stroke="#EBEBEB" stroke-width="1.07"/>
<line x1="549.84" x2="549.84" y1="128.6" y2="218.4" stroke="#EBEBEB" stroke-width="1.07"/>
<line x1="585.98" x2="585.98" y1="128.6" y2="218.4" stroke="#EBEBEB" stroke-width="1.07"/>
<line x1="622.12" x2="622.12" y1="128.6" y2="218.4" stroke="#EBEBEB" stroke-width="1.07"/>
<line x1="658.26" x2="658.26" y1="128.6" y2="218.4" stroke="#EBEBEB" stroke-width="1.07"/>
<line x1="380.40" x2="383.8" y1="134.9" y2="134.9" stroke="#262626" stroke-width="1.07"/>
<text x="378.40" y="138.50" text-anchor="end" font-size="9.4" fill="#333333" stroke="#333333" stroke-width="0.28" font-family="Liberation Sans, sans-serif" text-rendering="geometricPrecision">0.60</text>
<line x1="380.40" x2="383.8" y1="151.3" y2="151.3" stroke="#262626" stroke-width="1.07"/>
<text x="378.40" y="154.90" text-anchor="end" font-size="9.4" fill="#333333" stroke="#333333" stroke-width="0.28" font-family="Liberation Sans, sans-serif" text-rendering="geometricPrecision">0.55</text>
<line x1="380.40" x2="383.8" y1="167.8" y2="167.8" stroke="#262626" stroke-width="1.07"/>
<text x="378.40" y="171.40" text-anchor="end" font-size="9.4" fill="#333333" stroke="#333333" stroke-width="0.28" font-family="Liberation Sans, sans-serif" text-rendering="geometricPrecision">0.50</text>
<line x1="380.40" x2="383.8" y1="184.4" y2="184.4" stroke="#262626" stroke-width="1.07"/>
<text x="378.40" y="188.00" text-anchor="end" font-size="9.4" fill="#333333" stroke="#333333" stroke-width="0.28" font-family="Liberation Sans, sans-serif" text-rendering="geometricPrecision">0.45</text>
<line x1="380.40" x2="383.8" y1="201.0" y2="201.0" stroke="#262626" stroke-width="1.07"/>
<text x="378.40" y="204.60" text-anchor="end" font-size="9.4" fill="#333333" stroke="#333333" stroke-width="0.28" font-family="Liberation Sans, sans-serif" text-rendering="geometricPrecision">0.40</text>
<line x1="380.40" x2="383.8" y1="217.4" y2="217.4" stroke="#262626" stroke-width="1.07"/>
<text x="378.40" y="221.00" text-anchor="end" font-size="9.4" fill="#333333" stroke="#333333" stroke-width="0.28" font-family="Liberation Sans, sans-serif" text-rendering="geometricPrecision">0.35</text>
<line x1="405.28" x2="405.28" y1="218.4" y2="221.6" stroke="#262626" stroke-width="1.07"/>
<text x="405.28" y="230.20" text-anchor="middle" font-size="9.4" fill="#333333" stroke="#333333" stroke-width="0.28" font-family="Liberation Sans, sans-serif" text-rendering="geometricPrecision">100</text>
<line x1="441.42" x2="441.42" y1="218.4" y2="221.6" stroke="#262626" stroke-width="1.07"/>
<text x="441.42" y="230.20" text-anchor="middle" font-size="9.4" fill="#333333" stroke="#333333" stroke-width="0.28" font-family="Liberation Sans, sans-serif" text-rendering="geometricPrecision">200</text>
<line x1="477.56" x2="477.56" y1="218.4" y2="221.6" stroke="#262626" stroke-width="1.07"/>
<text x="477.56" y="230.20" text-anchor="middle" font-size="9.4" fill="#333333" stroke="#333333" stroke-width="0.28" font-family="Liberation Sans, sans-serif" text-rendering="geometricPrecision">300</text>
<line x1="513.70" x2="513.70" y1="218.4" y2="221.6" stroke="#262626" stroke-width="1.07"/>
<text x="513.70" y="230.20" text-anchor="middle" font-size="9.4" fill="#333333" stroke="#333333" stroke-width="0.28" font-family="Liberation Sans, sans-serif" text-rendering="geometricPrecision">400</text>
<line x1="549.84" x2="549.84" y1="218.4" y2="221.6" stroke="#262626" stroke-width="1.07"/>
<text x="549.84" y="230.20" text-anchor="middle" font-size="9.4" fill="#333333" stroke="#333333" stroke-width="0.28" font-family="Liberation Sans, sans-serif" text-rendering="geometricPrecision">500</text>
<line x1="585.98" x2="585.98" y1="218.4" y2="221.6" stroke="#262626" stroke-width="1.07"/>
<text x="585.98" y="230.20" text-anchor="middle" font-size="9.4" fill="#333333" stroke="#333333" stroke-width="0.28" font-family="Liberation Sans, sans-serif" text-rendering="geometricPrecision">600</text>
<line x1="622.12" x2="622.12" y1="218.4" y2="221.6" stroke="#262626" stroke-width="1.07"/>
<text x="622.12" y="230.20" text-anchor="middle" font-size="9.4" fill="#333333" stroke="#333333" stroke-width="0.28" font-family="Liberation Sans, sans-serif" text-rendering="geometricPrecision">700</text>
<line x1="658.26" x2="658.26" y1="218.4" y2="221.6" stroke="#262626" stroke-width="1.07"/>
<text x="658.26" y="230.20" text-anchor="middle" font-size="9.4" fill="#333333" stroke="#333333" stroke-width="0.28" font-family="Liberation Sans, sans-serif" text-rendering="geometricPrecision">Europe</text>
<circle cx="405.4" cy="147.6" r="2.2" fill="#010F62"/><rect x="403.35" y="148.25" width="4.1" height="4.1" fill="#010F62"/><circle cx="405.4" cy="154.0" r="2.2" fill="#59A329"/><rect x="403.35" y="156.35" width="4.1" height="4.1" fill="#59A329"/><rect x="406.65" y="157.75" width="4.1" height="4.1" fill="#59A329"/><rect x="403.35" y="159.05" width="4.1" height="4.1" fill="#F2AE1E"/><circle cx="405.4" cy="166.5" r="2.2" fill="#E0205E"/><rect x="403.35" y="167.65" width="4.1" height="4.1" fill="#E0205E"/><circle cx="405.4" cy="174.0" r="2.2" fill="#F2AE1E"/><path d="M405.20,179.90L408.20,185.05L402.20,185.05Z" fill="#F2AE1E"/><path d="M405.20,178.90L408.20,184.05L402.20,184.05Z" fill="#010F62"/><path d="M405.20,181.80L408.20,186.95L402.20,186.95Z" fill="#59A329"/><path d="M410.80,179.60L413.80,184.75L407.80,184.75Z" fill="#010F62"/><path d="M405.40,210.80L408.40,215.95L402.40,215.95Z" fill="#E0205E"/><circle cx="441.6" cy="137.2" r="2.2" fill="#010F62"/><rect x="439.55" y="136.75" width="4.1" height="4.1" fill="#010F62"/><circle cx="441.6" cy="142.0" r="2.2" fill="#59A329"/><rect x="439.55" y="144.35" width="4.1" height="4.1" fill="#59A329"/><rect x="439.55" y="151.85" width="4.1" height="4.1" fill="#F2AE1E"/><circle cx="429.9" cy="158.8" r="2.2" fill="#F2AE1E"/><circle cx="435.7" cy="158.8" r="2.2" fill="#E0205E"/><path d="M441.60,155.60L444.60,160.75L438.60,160.75Z" fill="#F2AE1E"/><path d="M441.60,153.60L444.60,158.75L438.60,158.75Z" fill="#59A329"/><path d="M441.60,158.30L444.60,163.45L438.60,163.45Z" fill="#010F62"/><rect x="444.95" y="156.75" width="4.1" height="4.1" fill="#E0205E"/><path d="M441.60,182.70L444.60,187.85L438.60,187.85Z" fill="#E0205E"/><circle cx="477.7" cy="133.9" r="2.2" fill="#010F62"/><circle cx="477.7" cy="137.9" r="2.2" fill="#59A329"/><rect x="475.65" y="138.95" width="4.1" height="4.1" fill="#010F62"/><rect x="475.65" y="142.65" width="4.1" height="4.1" fill="#59A329"/><path d="M472.70,144.70L475.70,149.85L469.70,149.85Z" fill="#F2AE1E"/><path d="M483.20,145.00L486.20,150.15L480.20,150.15Z" fill="#59A329"/><rect x="475.65" y="145.95" width="4.1" height="4.1" fill="#F2AE1E"/><path d="M477.70,148.00L480.70,153.15L474.70,153.15Z" fill="#010F62"/><circle cx="477.7" cy="153.4" r="2.2" fill="#F2AE1E"/><rect x="475.65" y="156.45" width="4.1" height="4.1" fill="#E0205E"/><circle cx="483.2" cy="158.2" r="2.2" fill="#E0205E"/><path d="M477.10,169.90L480.10,175.05L474.10,175.05Z" fill="#E0205E"/><circle cx="513.8" cy="132.3" r="2.2" fill="#010F62"/><rect x="511.75" y="134.05" width="4.1" height="4.1" fill="#010F62"/><circle cx="513.8" cy="139.7" r="2.2" fill="#59A329"/><rect x="511.75" y="143.25" width="4.1" height="4.1" fill="#59A329"/><path d="M510.70,144.20L513.70,149.35L507.70,149.35Z" fill="#59A329"/><rect x="512.75" y="146.55" width="4.1" height="4.1" fill="#F2AE1E"/><path d="M512.40,146.90L515.40,152.05L509.40,152.05Z" fill="#F2AE1E"/><circle cx="519.4" cy="149.1" r="2.2" fill="#F2AE1E"/><path d="M513.80,151.20L516.80,156.35L510.80,156.35Z" fill="#010F62"/><rect x="511.75" y="155.65" width="4.1" height="4.1" fill="#E0205E"/><circle cx="518.8" cy="156.6" r="2.2" fill="#E0205E"/><path d="M513.30,172.50L516.30,177.65L510.30,177.65Z" fill="#E0205E"/><circle cx="549.6" cy="135.0" r="2.2" fill="#010F62"/><circle cx="554.0" cy="135.6" r="2.2" fill="#010F62"/><rect x="547.55" y="135.15" width="4.1" height="4.1" fill="#010F62"/><circle cx="549.6" cy="140.7" r="2.2" fill="#59A329"/><rect x="541.85" y="144.35" width="4.1" height="4.1" fill="#59A329"/><path d="M549.60,143.10L552.60,148.25L546.60,148.25Z" fill="#010F62"/><path d="M555.60,143.70L558.60,148.85L552.60,148.85Z" fill="#59A329"/><rect x="550.25" y="148.05" width="4.1" height="4.1" fill="#F2AE1E"/><circle cx="549.6" cy="151.2" r="2.2" fill="#F2AE1E"/><path d="M549.60,151.20L552.60,156.35L546.60,156.35Z" fill="#F2AE1E"/><rect x="547.55" y="156.15" width="4.1" height="4.1" fill="#E0205E"/><circle cx="554.7" cy="157.4" r="2.2" fill="#E0205E"/><path d="M549.90,167.30L552.90,172.45L546.90,172.45Z" fill="#E0205E"/><circle cx="586.0" cy="132.3" r="2.2" fill="#010F62"/><rect x="583.95" y="135.15" width="4.1" height="4.1" fill="#010F62"/><rect x="589.45" y="136.25" width="4.1" height="4.1" fill="#010F62"/><circle cx="586.0" cy="138.8" r="2.2" fill="#59A329"/><path d="M585.30,141.50L588.30,146.65L582.30,146.65Z" fill="#59A329"/><path d="M591.00,142.00L594.00,147.15L588.00,147.15Z" fill="#59A329"/><path d="M586.00,145.30L589.00,150.45L583.00,150.45Z" fill="#010F62"/><path d="M592.00,146.90L595.00,152.05L589.00,152.05Z" fill="#F2AE1E"/><circle cx="586.0" cy="151.8" r="2.2" fill="#F2AE1E"/><rect x="583.95" y="154.55" width="4.1" height="4.1" fill="#E0205E"/><circle cx="589.1" cy="156.3" r="2.2" fill="#E0205E"/><rect x="583.95" y="156.45" width="4.1" height="4.1" fill="#E0205E"/><path d="M586.10,169.90L589.10,175.05L583.10,175.05Z" fill="#E0205E"/><circle cx="622.0" cy="133.9" r="2.2" fill="#010F62"/><rect x="619.95" y="136.75" width="4.1" height="4.1" fill="#010F62"/><path d="M622.00,139.30L625.00,144.45L619.00,144.45Z" fill="#59A329"/><path d="M628.00,141.50L631.00,146.65L625.00,146.65Z" fill="#59A329"/><path d="M622.00,143.70L625.00,148.85L619.00,148.85Z" fill="#010F62"/><rect x="619.95" y="149.75" width="4.1" height="4.1" fill="#F2AE1E"/><rect x="624.25" y="150.25" width="4.1" height="4.1" fill="#F2AE1E"/><path d="M628.00,152.80L631.00,157.95L625.00,157.95Z" fill="#F2AE1E"/><rect x="619.95" y="156.15" width="4.1" height="4.1" fill="#E0205E"/><path d="M622.10,168.30L625.10,173.45L619.10,173.45Z" fill="#E0205E"/><circle cx="658.2" cy="135.0" r="2.2" fill="#010F62"/><rect x="656.15" y="134.95" width="4.1" height="4.1" fill="#010F62"/><circle cx="658.2" cy="140.3" r="2.2" fill="#59A329"/><rect x="656.15" y="142.85" width="4.1" height="4.1" fill="#59A329"/><path d="M657.10,145.40L660.10,150.55L654.10,150.55Z" fill="#59A329"/><path d="M662.90,145.40L665.90,150.55L659.90,150.55Z" fill="#F2AE1E"/><rect x="656.15" y="147.95" width="4.1" height="4.1" fill="#F2AE1E"/><path d="M658.20,151.60L661.20,156.75L655.20,156.75Z" fill="#010F62"/><rect x="656.15" y="155.95" width="4.1" height="4.1" fill="#E0205E"/><circle cx="663.7" cy="156.4" r="2.2" fill="#E0205E"/><path d="M658.20,175.50L661.20,180.65L655.20,180.65Z" fill="#E0205E"/>
<rect x="383.8" y="128.6" width="296.00" height="89.80" fill="none" stroke="#858585" stroke-width="1.07"/>
<text transform="translate(8.8,173.50) rotate(-90)" text-anchor="middle" font-size="11.8" fill="#000" stroke="#000" stroke-width="0.15" font-family="Liberation Sans, sans-serif" text-rendering="geometricPrecision">TSS</text>
<line x1="38.5" x2="334.2" y1="247.5" y2="247.5" stroke="#EBEBEB" stroke-width="1.07"/>
<line x1="38.5" x2="334.2" y1="274.5" y2="274.5" stroke="#EBEBEB" stroke-width="1.07"/>
<line x1="38.5" x2="334.2" y1="301.6" y2="301.6" stroke="#EBEBEB" stroke-width="1.07"/>
<line x1="38.5" x2="334.2" y1="329.0" y2="329.0" stroke="#EBEBEB" stroke-width="1.07"/>
<line x1="59.64" x2="59.64" y1="244.6" y2="334.4" stroke="#EBEBEB" stroke-width="1.07"/>
<line x1="95.78" x2="95.78" y1="244.6" y2="334.4" stroke="#EBEBEB" stroke-width="1.07"/>
<line x1="131.92" x2="131.92" y1="244.6" y2="334.4" stroke="#EBEBEB" stroke-width="1.07"/>
<line x1="168.06" x2="168.06" y1="244.6" y2="334.4" stroke="#EBEBEB" stroke-width="1.07"/>
<line x1="204.20" x2="204.20" y1="244.6" y2="334.4" stroke="#EBEBEB" stroke-width="1.07"/>
<line x1="240.34" x2="240.34" y1="244.6" y2="334.4" stroke="#EBEBEB" stroke-width="1.07"/>
<line x1="276.48" x2="276.48" y1="244.6" y2="334.4" stroke="#EBEBEB" stroke-width="1.07"/>
<line x1="312.62" x2="312.62" y1="244.6" y2="334.4" stroke="#EBEBEB" stroke-width="1.07"/>
<line x1="35.10" x2="38.5" y1="247.5" y2="247.5" stroke="#262626" stroke-width="1.07"/>
<text x="33.10" y="251.10" text-anchor="end" font-size="9.4" fill="#333333" stroke="#333333" stroke-width="0.28" font-family="Liberation Sans, sans-serif" text-rendering="geometricPrecision">0.4</text>
<line x1="35.10" x2="38.5" y1="274.5" y2="274.5" stroke="#262626" stroke-width="1.07"/>
<text x="33.10" y="278.10" text-anchor="end" font-size="9.4" fill="#333333" stroke="#333333" stroke-width="0.28" font-family="Liberation Sans, sans-serif" text-rendering="geometricPrecision">0.3</text>
<line x1="35.10" x2="38.5" y1="301.6" y2="301.6" stroke="#262626" stroke-width="1.07"/>
<text x="33.10" y="305.20" text-anchor="end" font-size="9.4" fill="#333333" stroke="#333333" stroke-width="0.28" font-family="Liberation Sans, sans-serif" text-rendering="geometricPrecision">0.2</text>
<line x1="35.10" x2="38.5" y1="329.0" y2="329.0" stroke="#262626" stroke-width="1.07"/>
<text x="33.10" y="332.60" text-anchor="end" font-size="9.4" fill="#333333" stroke="#333333" stroke-width="0.28" font-family="Liberation Sans, sans-serif" text-rendering="geometricPrecision">0.1</text>
<line x1="59.64" x2="59.64" y1="334.4" y2="337.59999999999997" stroke="#262626" stroke-width="1.07"/>
<text x="59.64" y="346.20" text-anchor="middle" font-size="9.4" fill="#333333" stroke="#333333" stroke-width="0.28" font-family="Liberation Sans, sans-serif" text-rendering="geometricPrecision">100</text>
<line x1="95.78" x2="95.78" y1="334.4" y2="337.59999999999997" stroke="#262626" stroke-width="1.07"/>
<text x="95.78" y="346.20" text-anchor="middle" font-size="9.4" fill="#333333" stroke="#333333" stroke-width="0.28" font-family="Liberation Sans, sans-serif" text-rendering="geometricPrecision">200</text>
<line x1="131.92" x2="131.92" y1="334.4" y2="337.59999999999997" stroke="#262626" stroke-width="1.07"/>
<text x="131.92" y="346.20" text-anchor="middle" font-size="9.4" fill="#333333" stroke="#333333" stroke-width="0.28" font-family="Liberation Sans, sans-serif" text-rendering="geometricPrecision">300</text>
<line x1="168.06" x2="168.06" y1="334.4" y2="337.59999999999997" stroke="#262626" stroke-width="1.07"/>
<text x="168.06" y="346.20" text-anchor="middle" font-size="9.4" fill="#333333" stroke="#333333" stroke-width="0.28" font-family="Liberation Sans, sans-serif" text-rendering="geometricPrecision">400</text>
<line x1="204.20" x2="204.20" y1="334.4" y2="337.59999999999997" stroke="#262626" stroke-width="1.07"/>
<text x="204.20" y="346.20" text-anchor="middle" font-size="9.4" fill="#333333" stroke="#333333" stroke-width="0.28" font-family="Liberation Sans, sans-serif" text-rendering="geometricPrecision">500</text>
<line x1="240.34" x2="240.34" y1="334.4" y2="337.59999999999997" stroke="#262626" stroke-width="1.07"/>
<text x="240.34" y="346.20" text-anchor="middle" font-size="9.4" fill="#333333" stroke="#333333" stroke-width="0.28" font-family="Liberation Sans, sans-serif" text-rendering="geometricPrecision">600</text>
<line x1="276.48" x2="276.48" y1="334.4" y2="337.59999999999997" stroke="#262626" stroke-width="1.07"/>
<text x="276.48" y="346.20" text-anchor="middle" font-size="9.4" fill="#333333" stroke="#333333" stroke-width="0.28" font-family="Liberation Sans, sans-serif" text-rendering="geometricPrecision">700</text>
<line x1="312.62" x2="312.62" y1="334.4" y2="337.59999999999997" stroke="#262626" stroke-width="1.07"/>
<text x="312.62" y="346.20" text-anchor="middle" font-size="9.4" fill="#333333" stroke="#333333" stroke-width="0.28" font-family="Liberation Sans, sans-serif" text-rendering="geometricPrecision">Europe</text>
<path d="M59.60,245.90L62.60,251.05L56.60,251.05Z" fill="#59A329"/><rect x="57.55" y="254.65" width="4.1" height="4.1" fill="#59A329"/><circle cx="59.6" cy="264.3" r="2.2" fill="#E0205E"/><rect x="62.75" y="267.85" width="4.1" height="4.1" fill="#010F62"/><rect x="57.55" y="267.85" width="4.1" height="4.1" fill="#E0205E"/><path d="M55.10,269.20L58.10,274.35L52.10,274.35Z" fill="#F2AE1E"/><circle cx="59.6" cy="273.0" r="2.2" fill="#59A329"/><path d="M65.50,269.60L68.50,274.75L62.50,274.75Z" fill="#E0205E"/><rect x="57.55" y="273.85" width="4.1" height="4.1" fill="#F2AE1E"/><circle cx="63.6" cy="276.4" r="2.2" fill="#010F62"/><path d="M59.60,276.90L62.60,282.05L56.60,282.05Z" fill="#010F62"/><rect x="93.95" y="274.15" width="4.1" height="4.1" fill="#E0205E"/><rect x="93.25" y="280.25" width="4.1" height="4.1" fill="#F2AE1E"/><circle cx="96.0" cy="284.0" r="2.2" fill="#F2AE1E"/><rect x="88.35" y="284.25" width="4.1" height="4.1" fill="#010F62"/><circle cx="96.0" cy="287.0" r="2.2" fill="#E0205E"/><circle cx="101.2" cy="284.0" r="2.2" fill="#59A329"/><path d="M101.20,283.40L104.20,288.55L98.20,288.55Z" fill="#59A329"/><rect x="97.55" y="291.85" width="4.1" height="4.1" fill="#59A329"/><path d="M96.00,291.90L99.00,297.05L93.00,297.05Z" fill="#F2AE1E"/><circle cx="96.0" cy="299.6" r="2.2" fill="#010F62"/><path d="M96.00,299.10L99.00,304.25L93.00,304.25Z" fill="#010F62"/><path d="M96.00,311.50L99.00,316.65L93.00,316.65Z" fill="#E0205E"/><path d="M132.00,278.80L135.00,283.95L129.00,283.95Z" fill="#F2AE1E"/><path d="M132.00,286.00L135.00,291.15L129.00,291.15Z" fill="#59A329"/><rect x="129.95" y="290.55" width="4.1" height="4.1" fill="#F2AE1E"/><circle cx="132.0" cy="300.6" r="2.2" fill="#F2AE1E"/><circle cx="132.0" cy="304.5" r="2.2" fill="#59A329"/><path d="M132.00,304.40L135.00,309.55L129.00,309.55Z" fill="#010F62"/><rect x="135.85" y="304.85" width="4.1" height="4.1" fill="#E0205E"/><circle cx="129.8" cy="311.4" r="2.2" fill="#E0205E"/><circle cx="132.0" cy="312.3" r="2.2" fill="#010F62"/><rect x="132.65" y="310.25" width="4.1" height="4.1" fill="#010F62"/><rect x="135.05" y="312.55" width="4.1" height="4.1" fill="#59A329"/><path d="M132.00,313.00L135.00,318.15L129.00,318.15Z" fill="#E0205E"/><rect x="166.15" y="295.25" width="4.1" height="4.1" fill="#010F62"/><path d="M170.30,296.60L173.30,301.75L167.30,301.75Z" fill="#59A329"/><circle cx="166.9" cy="300.4" r="2.2" fill="#F2AE1E"/><circle cx="165.1" cy="303.6" r="2.2" fill="#010F62"/><rect x="167.25" y="301.55" width="4.1" height="4.1" fill="#59A329"/><circle cx="163.9" cy="306.3" r="2.2" fill="#E0205E"/><rect x="168.85" y="304.85" width="4.1" height="4.1" fill="#E0205E"/><rect x="166.15" y="307.55" width="4.1" height="4.1" fill="#F2AE1E"/><path d="M168.20,318.20L171.20,323.35L165.20,323.35Z" fill="#E0205E"/><path d="M168.20,320.40L171.20,325.55L165.20,325.55Z" fill="#010F62"/><path d="M204.40,299.80L207.40,304.95L201.40,304.95Z" fill="#F2AE1E"/><rect x="202.35" y="304.55" width="4.1" height="4.1" fill="#E0205E"/><path d="M204.40,305.80L207.40,310.95L201.40,310.95Z" fill="#010F62"/><path d="M210.00,303.60L213.00,308.75L207.00,308.75Z" fill="#59A329"/><circle cx="204.4" cy="312.8" r="2.2" fill="#E0205E"/><rect x="207.95" y="311.45" width="4.1" height="4.1" fill="#59A329"/><rect x="207.95" y="313.95" width="4.1" height="4.1" fill="#59A329"/><path d="M198.70,313.00L201.70,318.15L195.70,318.15Z" fill="#E0205E"/><circle cx="204.4" cy="316.6" r="2.2" fill="#010F62"/><circle cx="204.4" cy="319.8" r="2.2" fill="#F2AE1E"/><rect x="202.35" y="320.75" width="4.1" height="4.1" fill="#010F62"/><circle cx="240.4" cy="293.0" r="2.2" fill="#F2AE1E"/><rect x="238.35" y="296.35" width="4.1" height="4.1" fill="#F2AE1E"/><rect x="244.25" y="296.75" width="4.1" height="4.1" fill="#F2AE1E"/><circle cx="240.4" cy="302.0" r="2.2" fill="#59A329"/><rect x="238.35" y="302.65" width="4.1" height="4.1" fill="#E0205E"/><rect x="238.35" y="306.95" width="4.1" height="4.1" fill="#010F62"/><circle cx="242.7" cy="308.5" r="2.2" fill="#010F62"/><circle cx="239.5" cy="317.1" r="2.2" fill="#E0205E"/><path d="M240.40,313.30L243.40,318.45L237.40,318.45Z" fill="#59A329"/><path d="M244.30,313.30L247.30,318.45L241.30,318.45Z" fill="#59A329"/><path d="M244.30,315.50L247.30,320.65L241.30,320.65Z" fill="#E0205E"/><rect x="238.35" y="317.75" width="4.1" height="4.1" fill="#59A329"/><path d="M240.40,320.90L243.40,326.05L237.40,326.05Z" fill="#010F62"/><rect x="274.45" y="300.45" width="4.1" height="4.1" fill="#F2AE1E"/><path d="M281.60,301.60L284.60,306.75L278.60,306.75Z" fill="#59A329"/><circle cx="276.5" cy="305.7" r="2.2" fill="#59A329"/><rect x="274.45" y="307.15" width="4.1" height="4.1" fill="#E0205E"/><rect x="274.45" y="308.95" width="4.1" height="4.1" fill="#E0205E"/><circle cx="281.6" cy="311.3" r="2.2" fill="#010F62"/><rect x="279.55" y="312.55" width="4.1" height="4.1" fill="#59A329"/><rect x="274.45" y="313.05" width="4.1" height="4.1" fill="#010F62"/><circle cx="276.5" cy="323.0" r="2.2" fill="#F2AE1E"/><path d="M276.50,322.50L279.50,327.65L273.50,327.65Z" fill="#010F62"/><path d="M281.90,324.00L284.90,329.15L278.90,329.15Z" fill="#F2AE1E"/><path d="M276.50,325.40L279.50,330.55L273.50,330.55Z" fill="#E0205E"/><rect x="305.85" y="304.05" width="4.1" height="4.1" fill="#59A329"/><rect x="310.65" y="304.05" width="4.1" height="4.1" fill="#59A329"/><rect x="316.25" y="304.95" width="4.1" height="4.1" fill="#010F62"/><circle cx="312.7" cy="310.2" r="2.2" fill="#010F62"/><rect x="304.95" y="312.75" width="4.1" height="4.1" fill="#E0205E"/><path d="M312.70,311.90L315.70,317.05L309.70,317.05Z" fill="#59A329"/><path d="M318.30,311.90L321.30,317.05L315.30,317.05Z" fill="#F2AE1E"/><circle cx="323.7" cy="314.4" r="2.2" fill="#F2AE1E"/><circle cx="312.7" cy="321.0" r="2.2" fill="#E0205E"/><path d="M312.70,320.00L315.70,325.15L309.70,325.15Z" fill="#E0205E"/><rect x="310.65" y="328.15" width="4.1" height="4.1" fill="#F2AE1E"/>
<rect x="38.5" y="244.6" width="295.70" height="89.80" fill="none" stroke="#858585" stroke-width="1.07"/>
<line x1="383.8" x2="679.8" y1="251.5" y2="251.5" stroke="#EBEBEB" stroke-width="1.07"/>
<line x1="383.8" x2="679.8" y1="271.4" y2="271.4" stroke="#EBEBEB" stroke-width="1.07"/>
<line x1="383.8" x2="679.8" y1="290.9" y2="290.9" stroke="#EBEBEB" stroke-width="1.07"/>
<line x1="383.8" x2="679.8" y1="310.6" y2="310.6" stroke="#EBEBEB" stroke-width="1.07"/>
<line x1="383.8" x2="679.8" y1="330.3" y2="330.3" stroke="#EBEBEB" stroke-width="1.07"/>
<line x1="405.28" x2="405.28" y1="244.6" y2="334.4" stroke="#EBEBEB" stroke-width="1.07"/>
<line x1="441.42" x2="441.42" y1="244.6" y2="334.4" stroke="#EBEBEB" stroke-width="1.07"/>
<line x1="477.56" x2="477.56" y1="244.6" y2="334.4" stroke="#EBEBEB" stroke-width="1.07"/>
<line x1="513.70" x2="513.70" y1="244.6" y2="334.4" stroke="#EBEBEB" stroke-width="1.07"/>
<line x1="549.84" x2="549.84" y1="244.6" y2="334.4" stroke="#EBEBEB" stroke-width="1.07"/>
<line x1="585.98" x2="585.98" y1="244.6" y2="334.4" stroke="#EBEBEB" stroke-width="1.07"/>
<line x1="622.12" x2="622.12" y1="244.6" y2="334.4" stroke="#EBEBEB" stroke-width="1.07"/>
<line x1="658.26" x2="658.26" y1="244.6" y2="334.4" stroke="#EBEBEB" stroke-width="1.07"/>
<line x1="380.40" x2="383.8" y1="251.5" y2="251.5" stroke="#262626" stroke-width="1.07"/>
<text x="378.40" y="255.10" text-anchor="end" font-size="9.4" fill="#333333" stroke="#333333" stroke-width="0.28" font-family="Liberation Sans, sans-serif" text-rendering="geometricPrecision">0.30</text>
<line x1="380.40" x2="383.8" y1="271.4" y2="271.4" stroke="#262626" stroke-width="1.07"/>
<text x="378.40" y="275.00" text-anchor="end" font-size="9.4" fill="#333333" stroke="#333333" stroke-width="0.28" font-family="Liberation Sans, sans-serif" text-rendering="geometricPrecision">0.25</text>
<line x1="380.40" x2="383.8" y1="290.9" y2="290.9" stroke="#262626" stroke-width="1.07"/>
<text x="378.40" y="294.50" text-anchor="end" font-size="9.4" fill="#333333" stroke="#333333" stroke-width="0.28" font-family="Liberation Sans, sans-serif" text-rendering="geometricPrecision">0.20</text>
<line x1="380.40" x2="383.8" y1="310.6" y2="310.6" stroke="#262626" stroke-width="1.07"/>
<text x="378.40" y="314.20" text-anchor="end" font-size="9.4" fill="#333333" stroke="#333333" stroke-width="0.28" font-family="Liberation Sans, sans-serif" text-rendering="geometricPrecision">0.15</text>
<line x1="380.40" x2="383.8" y1="330.3" y2="330.3" stroke="#262626" stroke-width="1.07"/>
<text x="378.40" y="333.90" text-anchor="end" font-size="9.4" fill="#333333" stroke="#333333" stroke-width="0.28" font-family="Liberation Sans, sans-serif" text-rendering="geometricPrecision">0.10</text>
<line x1="405.28" x2="405.28" y1="334.4" y2="337.59999999999997" stroke="#262626" stroke-width="1.07"/>
<text x="405.28" y="346.20" text-anchor="middle" font-size="9.4" fill="#333333" stroke="#333333" stroke-width="0.28" font-family="Liberation Sans, sans-serif" text-rendering="geometricPrecision">100</text>
<line x1="441.42" x2="441.42" y1="334.4" y2="337.59999999999997" stroke="#262626" stroke-width="1.07"/>
<text x="441.42" y="346.20" text-anchor="middle" font-size="9.4" fill="#333333" stroke="#333333" stroke-width="0.28" font-family="Liberation Sans, sans-serif" text-rendering="geometricPrecision">200</text>
<line x1="477.56" x2="477.56" y1="334.4" y2="337.59999999999997" stroke="#262626" stroke-width="1.07"/>
<text x="477.56" y="346.20" text-anchor="middle" font-size="9.4" fill="#333333" stroke="#333333" stroke-width="0.28" font-family="Liberation Sans, sans-serif" text-rendering="geometricPrecision">300</text>
<line x1="513.70" x2="513.70" y1="334.4" y2="337.59999999999997" stroke="#262626" stroke-width="1.07"/>
<text x="513.70" y="346.20" text-anchor="middle" font-size="9.4" fill="#333333" stroke="#333333" stroke-width="0.28" font-family="Liberation Sans, sans-serif" text-rendering="geometricPrecision">400</text>
<line x1="549.84" x2="549.84" y1="334.4" y2="337.59999999999997" stroke="#262626" stroke-width="1.07"/>
<text x="549.84" y="346.20" text-anchor="middle" font-size="9.4" fill="#333333" stroke="#333333" stroke-width="0.28" font-family="Liberation Sans, sans-serif" text-rendering="geometricPrecision">500</text>
<line x1="585.98" x2="585.98" y1="334.4" y2="337.59999999999997" stroke="#262626" stroke-width="1.07"/>
<text x="585.98" y="346.20" text-anchor="middle" font-size="9.4" fill="#333333" stroke="#333333" stroke-width="0.28" font-family="Liberation Sans, sans-serif" text-rendering="geometricPrecision">600</text>
<line x1="622.12" x2="622.12" y1="334.4" y2="337.59999999999997" stroke="#262626" stroke-width="1.07"/>
<text x="622.12" y="346.20" text-anchor="middle" font-size="9.4" fill="#333333" stroke="#333333" stroke-width="0.28" font-family="Liberation Sans, sans-serif" text-rendering="geometricPrecision">700</text>
<line x1="658.26" x2="658.26" y1="334.4" y2="337.59999999999997" stroke="#262626" stroke-width="1.07"/>
<text x="658.26" y="346.20" text-anchor="middle" font-size="9.4" fill="#333333" stroke="#333333" stroke-width="0.28" font-family="Liberation Sans, sans-serif" text-rendering="geometricPrecision">Europe</text>
<path d="M405.10,245.90L408.10,251.05L402.10,251.05Z" fill="#E0205E"/><path d="M405.10,275.60L408.10,280.75L402.10,280.75Z" fill="#010F62"/><circle cx="405.1" cy="282.4" r="2.2" fill="#F2AE1E"/><path d="M405.10,282.80L408.10,287.95L402.10,287.95Z" fill="#59A329"/><path d="M405.10,286.40L408.10,291.55L402.10,291.55Z" fill="#F2AE1E"/><rect x="403.05" y="290.25" width="4.1" height="4.1" fill="#010F62"/><rect x="403.05" y="299.85" width="4.1" height="4.1" fill="#E0205E"/><rect x="407.55" y="300.15" width="4.1" height="4.1" fill="#E0205E"/><circle cx="405.1" cy="303.1" r="2.2" fill="#010F62"/><rect x="403.05" y="304.95" width="4.1" height="4.1" fill="#F2AE1E"/><rect x="403.05" y="307.35" width="4.1" height="4.1" fill="#59A329"/><circle cx="405.1" cy="312.3" r="2.2" fill="#E0205E"/><circle cx="405.1" cy="315.4" r="2.2" fill="#59A329"/><rect x="439.45" y="298.05" width="4.1" height="4.1" fill="#010F62"/><rect x="439.45" y="300.45" width="4.1" height="4.1" fill="#010F62"/><rect x="433.85" y="304.05" width="4.1" height="4.1" fill="#F2AE1E"/><path d="M446.90,302.80L449.90,307.95L443.90,307.95Z" fill="#F2AE1E"/><rect x="439.45" y="304.45" width="4.1" height="4.1" fill="#F2AE1E"/><rect x="432.85" y="307.55" width="4.1" height="4.1" fill="#E0205E"/><path d="M439.10,306.70L442.10,311.85L436.10,311.85Z" fill="#E0205E"/><circle cx="447.5" cy="309.6" r="2.2" fill="#E0205E"/><path d="M441.50,309.30L444.50,314.45L438.50,314.45Z" fill="#010F62"/><circle cx="444.5" cy="311.4" r="2.2" fill="#59A329"/><circle cx="441.5" cy="315.4" r="2.2" fill="#59A329"/><path d="M441.50,324.30L444.50,329.45L438.50,329.45Z" fill="#59A329"/><circle cx="477.4" cy="294.9" r="2.2" fill="#E0205E"/><rect x="469.95" y="300.05" width="4.1" height="4.1" fill="#010F62"/><rect x="475.35" y="300.05" width="4.1" height="4.1" fill="#F2AE1E"/><rect x="481.05" y="300.65" width="4.1" height="4.1" fill="#59A329"/><circle cx="477.4" cy="305.4" r="2.2" fill="#010F62"/><circle cx="475.1" cy="307.5" r="2.2" fill="#59A329"/><path d="M477.40,305.90L480.40,311.05L474.40,311.05Z" fill="#F2AE1E"/><rect x="479.45" y="305.85" width="4.1" height="4.1" fill="#E0205E"/><path d="M477.40,311.00L480.40,316.15L474.40,316.15Z" fill="#E0205E"/><path d="M477.40,315.50L480.40,320.65L474.40,320.65Z" fill="#F2AE1E"/><path d="M477.40,313.50L480.40,318.65L474.40,318.65Z" fill="#010F62"/><path d="M477.40,317.80L480.40,322.95L474.40,322.95Z" fill="#59A329"/><rect x="511.65" y="299.05" width="4.1" height="4.1" fill="#010F62"/><rect x="511.65" y="300.95" width="4.1" height="4.1" fill="#010F62"/><path d="M509.00,301.30L512.00,306.45L506.00,306.45Z" fill="#E0205E"/><rect x="517.05" y="302.55" width="4.1" height="4.1" fill="#E0205E"/><path d="M513.70,302.10L516.70,307.25L510.70,307.25Z" fill="#F2AE1E"/><circle cx="519.1" cy="307.0" r="2.2" fill="#010F62"/><path d="M513.70,304.30L516.70,309.45L510.70,309.45Z" fill="#010F62"/><circle cx="509.6" cy="309.0" r="2.2" fill="#59A329"/><circle cx="513.7" cy="310.8" r="2.2" fill="#E0205E"/><rect x="517.05" y="308.75" width="4.1" height="4.1" fill="#F2AE1E"/><path d="M513.70,317.30L516.70,322.45L510.70,322.45Z" fill="#F2AE1E"/><path d="M513.70,325.40L516.70,330.55L510.70,330.55Z" fill="#59A329"/><circle cx="549.8" cy="293.5" r="2.2" fill="#E0205E"/><rect x="547.75" y="300.85" width="4.1" height="4.1" fill="#010F62"/><rect x="547.75" y="303.85" width="4.1" height="4.1" fill="#E0205E"/><circle cx="549.8" cy="309.0" r="2.2" fill="#F2AE1E"/><circle cx="547.1" cy="312.4" r="2.2" fill="#59A329"/><circle cx="552.9" cy="312.4" r="2.2" fill="#59A329"/><path d="M549.80,310.30L552.80,315.45L546.80,315.45Z" fill="#F2AE1E"/><path d="M555.40,312.90L558.40,318.05L552.40,318.05Z" fill="#010F62"/><circle cx="549.8" cy="316.7" r="2.2" fill="#010F62"/><path d="M549.80,316.40L552.80,321.55L546.80,321.55Z" fill="#E0205E"/><rect x="553.35" y="317.35" width="4.1" height="4.1" fill="#59A329"/><circle cx="586.0" cy="299.8" r="2.2" fill="#E0205E"/><rect x="580.85" y="305.45" width="4.1" height="4.1" fill="#E0205E"/><path d="M587.30,305.40L590.30,310.55L584.30,310.55Z" fill="#010F62"/><rect x="574.95" y="307.65" width="4.1" height="4.1" fill="#59A329"/><circle cx="582.4" cy="310.0" r="2.2" fill="#F2AE1E"/><circle cx="590.5" cy="310.2" r="2.2" fill="#010F62"/><path d="M586.00,308.40L589.00,313.55L583.00,313.55Z" fill="#E0205E"/><circle cx="586.0" cy="314.8" r="2.2" fill="#F2AE1E"/><circle cx="586.0" cy="318.4" r="2.2" fill="#59A329"/><path d="M586.00,320.00L589.00,325.15L583.00,325.15Z" fill="#59A329"/><path d="M590.70,318.90L593.70,324.05L587.70,324.05Z" fill="#F2AE1E"/><path d="M586.00,324.30L589.00,329.45L583.00,329.45Z" fill="#010F62"/><circle cx="622.0" cy="307.9" r="2.2" fill="#F2AE1E"/><rect x="619.95" y="308.15" width="4.1" height="4.1" fill="#E0205E"/><circle cx="616.1" cy="311.1" r="2.2" fill="#010F62"/><rect x="619.95" y="310.35" width="4.1" height="4.1" fill="#59A329"/><rect x="619.95" y="313.05" width="4.1" height="4.1" fill="#59A329"/><circle cx="628.0" cy="311.1" r="2.2" fill="#E0205E"/><path d="M628.00,312.40L631.00,317.55L625.00,317.55Z" fill="#F2AE1E"/><rect x="619.95" y="315.95" width="4.1" height="4.1" fill="#F2AE1E"/><rect x="625.95" y="315.95" width="4.1" height="4.1" fill="#010F62"/><path d="M622.00,320.30L625.00,325.45L619.00,325.45Z" fill="#010F62"/><path d="M622.00,327.20L625.00,332.35L619.00,332.35Z" fill="#59A329"/><rect x="657.05" y="297.35" width="4.1" height="4.1" fill="#010F62"/><rect x="655.95" y="300.05" width="4.1" height="4.1" fill="#F2AE1E"/><rect x="655.95" y="303.35" width="4.1" height="4.1" fill="#E0205E"/><circle cx="658.0" cy="308.1" r="2.2" fill="#010F62"/><circle cx="663.6" cy="307.9" r="2.2" fill="#E0205E"/><path d="M663.60,307.00L666.60,312.15L660.60,312.15Z" fill="#E0205E"/><path d="M653.20,307.50L656.20,312.65L650.20,312.65Z" fill="#F2AE1E"/><rect x="655.95" y="310.35" width="4.1" height="4.1" fill="#59A329"/><rect x="655.95" y="313.05" width="4.1" height="4.1" fill="#59A329"/><path d="M658.00,317.80L661.00,322.95L655.00,322.95Z" fill="#59A329"/><path d="M658.00,324.80L661.00,329.95L655.00,329.95Z" fill="#010F62"/>
<rect x="383.8" y="244.6" width="296.00" height="89.80" fill="none" stroke="#858585" stroke-width="1.07"/>
<text transform="translate(8.8,289.50) rotate(-90)" text-anchor="middle" font-size="11.8" fill="#000" stroke="#000" stroke-width="0.15" font-family="Liberation Sans, sans-serif" text-rendering="geometricPrecision">OR</text>
<line x1="38.5" x2="334.2" y1="370.3" y2="370.3" stroke="#EBEBEB" stroke-width="1.07"/>
<line x1="38.5" x2="334.2" y1="397.4" y2="397.4" stroke="#EBEBEB" stroke-width="1.07"/>
<line x1="38.5" x2="334.2" y1="424.9" y2="424.9" stroke="#EBEBEB" stroke-width="1.07"/>
<line x1="59.64" x2="59.64" y1="360.5" y2="450.3" stroke="#EBEBEB" stroke-width="1.07"/>
<line x1="95.78" x2="95.78" y1="360.5" y2="450.3" stroke="#EBEBEB" stroke-width="1.07"/>
<line x1="131.92" x2="131.92" y1="360.5" y2="450.3" stroke="#EBEBEB" stroke-width="1.07"/>
<line x1="168.06" x2="168.06" y1="360.5" y2="450.3" stroke="#EBEBEB" stroke-width="1.07"/>
<line x1="204.20" x2="204.20" y1="360.5" y2="450.3" stroke="#EBEBEB" stroke-width="1.07"/>
<line x1="240.34" x2="240.34" y1="360.5" y2="450.3" stroke="#EBEBEB" stroke-width="1.07"/>
<line x1="276.48" x2="276.48" y1="360.5" y2="450.3" stroke="#EBEBEB" stroke-width="1.07"/>
<line x1="312.62" x2="312.62" y1="360.5" y2="450.3" stroke="#EBEBEB" stroke-width="1.07"/>
<line x1="35.10" x2="38.5" y1="370.3" y2="370.3" stroke="#262626" stroke-width="1.07"/>
<text x="33.10" y="373.90" text-anchor="end" font-size="9.4" fill="#333333" stroke="#333333" stroke-width="0.28" font-family="Liberation Sans, sans-serif" text-rendering="geometricPrecision">1.0</text>
<line x1="35.10" x2="38.5" y1="397.4" y2="397.4" stroke="#262626" stroke-width="1.07"/>
<text x="33.10" y="401.00" text-anchor="end" font-size="9.4" fill="#333333" stroke="#333333" stroke-width="0.28" font-family="Liberation Sans, sans-serif" text-rendering="geometricPrecision">0.8</text>
<line x1="35.10" x2="38.5" y1="424.9" y2="424.9" stroke="#262626" stroke-width="1.07"/>
<text x="33.10" y="428.50" text-anchor="end" font-size="9.4" fill="#333333" stroke="#333333" stroke-width="0.28" font-family="Liberation Sans, sans-serif" text-rendering="geometricPrecision">0.6</text>
<line x1="59.64" x2="59.64" y1="450.3" y2="453.5" stroke="#262626" stroke-width="1.07"/>
<text x="59.64" y="462.10" text-anchor="middle" font-size="9.4" fill="#333333" stroke="#333333" stroke-width="0.28" font-family="Liberation Sans, sans-serif" text-rendering="geometricPrecision">100</text>
<line x1="95.78" x2="95.78" y1="450.3" y2="453.5" stroke="#262626" stroke-width="1.07"/>
<text x="95.78" y="462.10" text-anchor="middle" font-size="9.4" fill="#333333" stroke="#333333" stroke-width="0.28" font-family="Liberation Sans, sans-serif" text-rendering="geometricPrecision">200</text>
<line x1="131.92" x2="131.92" y1="450.3" y2="453.5" stroke="#262626" stroke-width="1.07"/>
<text x="131.92" y="462.10" text-anchor="middle" font-size="9.4" fill="#333333" stroke="#333333" stroke-width="0.28" font-family="Liberation Sans, sans-serif" text-rendering="geometricPrecision">300</text>
<line x1="168.06" x2="168.06" y1="450.3" y2="453.5" stroke="#262626" stroke-width="1.07"/>
<text x="168.06" y="462.10" text-anchor="middle" font-size="9.4" fill="#333333" stroke="#333333" stroke-width="0.28" font-family="Liberation Sans, sans-serif" text-rendering="geometricPrecision">400</text>
<line x1="204.20" x2="204.20" y1="450.3" y2="453.5" stroke="#262626" stroke-width="1.07"/>
<text x="204.20" y="462.10" text-anchor="middle" font-size="9.4" fill="#333333" stroke="#333333" stroke-width="0.28" font-family="Liberation Sans, sans-serif" text-rendering="geometricPrecision">500</text>
<line x1="240.34" x2="240.34" y1="450.3" y2="453.5" stroke="#262626" stroke-width="1.07"/>
<text x="240.34" y="462.10" text-anchor="middle" font-size="9.4" fill="#333333" stroke="#333333" stroke-width="0.28" font-family="Liberation Sans, sans-serif" text-rendering="geometricPrecision">600</text>
<line x1="276.48" x2="276.48" y1="450.3" y2="453.5" stroke="#262626" stroke-width="1.07"/>
<text x="276.48" y="462.10" text-anchor="middle" font-size="9.4" fill="#333333" stroke="#333333" stroke-width="0.28" font-family="Liberation Sans, sans-serif" text-rendering="geometricPrecision">700</text>
<line x1="312.62" x2="312.62" y1="450.3" y2="453.5" stroke="#262626" stroke-width="1.07"/>
<text x="312.62" y="462.10" text-anchor="middle" font-size="9.4" fill="#333333" stroke="#333333" stroke-width="0.28" font-family="Liberation Sans, sans-serif" text-rendering="geometricPrecision">Europe</text>
<rect x="57.65" y="362.15" width="4.1" height="4.1" fill="#010F62"/><rect x="57.65" y="365.75" width="4.1" height="4.1" fill="#E0205E"/><rect x="57.65" y="372.05" width="4.1" height="4.1" fill="#59A329"/><path d="M59.70,383.60L62.70,388.75L56.70,388.75Z" fill="#F2AE1E"/><rect x="57.65" y="388.35" width="4.1" height="4.1" fill="#F2AE1E"/><path d="M59.70,396.10L62.70,401.25L56.70,401.25Z" fill="#010F62"/><circle cx="59.7" cy="406.0" r="2.2" fill="#E0205E"/><circle cx="59.7" cy="414.9" r="2.2" fill="#F2AE1E"/><path d="M59.70,409.80L62.70,414.95L56.70,414.95Z" fill="#59A329"/><circle cx="59.7" cy="436.4" r="2.2" fill="#010F62"/><circle cx="65.5" cy="436.4" r="2.2" fill="#59A329"/><path d="M59.70,443.00L62.70,448.15L56.70,448.15Z" fill="#E0205E"/><rect x="93.95" y="372.85" width="4.1" height="4.1" fill="#E0205E"/><rect x="93.95" y="374.05" width="4.1" height="4.1" fill="#010F62"/><rect x="98.95" y="373.25" width="4.1" height="4.1" fill="#E0205E"/><path d="M100.70,377.00L103.70,382.15L97.70,382.15Z" fill="#010F62"/><path d="M96.00,378.20L99.00,383.35L93.00,383.35Z" fill="#F2AE1E"/><rect x="93.95" y="384.25" width="4.1" height="4.1" fill="#F2AE1E"/><rect x="98.65" y="383.65" width="4.1" height="4.1" fill="#59A329"/><path d="M96.00,392.90L99.00,398.05L93.00,398.05Z" fill="#59A329"/><circle cx="95.3" cy="408.3" r="2.2" fill="#E0205E"/><circle cx="96.0" cy="406.5" r="2.2" fill="#010F62"/><circle cx="98.3" cy="406.5" r="2.2" fill="#010F62"/><circle cx="96.0" cy="413.1" r="2.2" fill="#59A329"/><circle cx="101.5" cy="413.1" r="2.2" fill="#F2AE1E"/><path d="M96.00,417.00L99.00,422.15L93.00,422.15Z" fill="#E0205E"/><rect x="130.05" y="373.45" width="4.1" height="4.1" fill="#E0205E"/><rect x="135.05" y="374.65" width="4.1" height="4.1" fill="#010F62"/><path d="M132.10,374.60L135.10,379.75L129.10,379.75Z" fill="#F2AE1E"/><path d="M132.10,378.50L135.10,383.65L129.10,383.65Z" fill="#010F62"/><rect x="130.05" y="382.45" width="4.1" height="4.1" fill="#59A329"/><path d="M132.10,385.00L135.10,390.15L129.10,390.15Z" fill="#59A329"/><rect x="135.05" y="384.85" width="4.1" height="4.1" fill="#F2AE1E"/><circle cx="132.1" cy="406.6" r="2.2" fill="#F2AE1E"/><circle cx="132.1" cy="408.9" r="2.2" fill="#59A329"/><circle cx="137.7" cy="408.9" r="2.2" fill="#010F62"/><circle cx="132.1" cy="415.1" r="2.2" fill="#E0205E"/><path d="M132.10,414.30L135.10,419.45L129.10,419.45Z" fill="#E0205E"/><rect x="166.05" y="370.45" width="4.1" height="4.1" fill="#E0205E"/><path d="M165.50,373.10L168.50,378.25L162.50,378.25Z" fill="#F2AE1E"/><path d="M172.30,373.10L175.30,378.25L169.30,378.25Z" fill="#010F62"/><rect x="166.05" y="374.65" width="4.1" height="4.1" fill="#010F62"/><rect x="166.05" y="379.15" width="4.1" height="4.1" fill="#59A329"/><rect x="166.05" y="385.95" width="4.1" height="4.1" fill="#F2AE1E"/><path d="M168.10,394.30L171.10,399.45L165.10,399.45Z" fill="#59A329"/><circle cx="168.1" cy="400.6" r="2.2" fill="#59A329"/><circle cx="173.8" cy="400.6" r="2.2" fill="#E0205E"/><circle cx="172.3" cy="404.2" r="2.2" fill="#010F62"/><circle cx="168.1" cy="405.1" r="2.2" fill="#F2AE1E"/><path d="M168.10,405.00L171.10,410.15L165.10,410.15Z" fill="#E0205E"/><path d="M204.30,371.60L207.30,376.75L201.30,376.75Z" fill="#F2AE1E"/><rect x="198.85" y="376.45" width="4.1" height="4.1" fill="#E0205E"/><rect x="205.15" y="376.85" width="4.1" height="4.1" fill="#010F62"/><circle cx="204.5" cy="379.7" r="2.2" fill="#010F62"/><rect x="197.65" y="384.85" width="4.1" height="4.1" fill="#59A329"/><rect x="200.65" y="384.85" width="4.1" height="4.1" fill="#59A329"/><path d="M205.70,383.80L208.70,388.95L202.70,388.95Z" fill="#59A329"/><rect x="202.25" y="386.85" width="4.1" height="4.1" fill="#F2AE1E"/><circle cx="203.9" cy="403.0" r="2.2" fill="#010F62"/><circle cx="206.9" cy="403.0" r="2.2" fill="#010F62"/><rect x="201.65" y="402.75" width="4.1" height="4.1" fill="#E0205E"/><path d="M208.70,403.60L211.70,408.75L205.70,408.75Z" fill="#E0205E"/><circle cx="204.3" cy="407.7" r="2.2" fill="#59A329"/><circle cx="204.3" cy="413.1" r="2.2" fill="#F2AE1E"/><path d="M240.30,375.00L243.30,380.15L237.30,380.15Z" fill="#010F62"/><rect x="238.25" y="378.85" width="4.1" height="4.1" fill="#E0205E"/><path d="M246.30,378.20L249.30,383.35L243.30,383.35Z" fill="#F2AE1E"/><rect x="238.25" y="381.25" width="4.1" height="4.1" fill="#010F62"/><rect x="238.25" y="385.45" width="4.1" height="4.1" fill="#59A329"/><rect x="238.25" y="389.25" width="4.1" height="4.1" fill="#F2AE1E"/><path d="M245.90,386.90L248.90,392.05L242.90,392.05Z" fill="#59A329"/><circle cx="240.3" cy="404.4" r="2.2" fill="#59A329"/><circle cx="240.3" cy="406.6" r="2.2" fill="#010F62"/><path d="M246.30,402.90L249.30,408.05L243.30,408.05Z" fill="#E0205E"/><circle cx="245.1" cy="410.1" r="2.2" fill="#E0205E"/><circle cx="240.3" cy="411.1" r="2.2" fill="#F2AE1E"/><path d="M272.90,374.60L275.90,379.75L269.90,379.75Z" fill="#F2AE1E"/><rect x="277.05" y="375.65" width="4.1" height="4.1" fill="#E0205E"/><path d="M276.50,376.20L279.50,381.35L273.50,381.35Z" fill="#010F62"/><rect x="274.45" y="381.55" width="4.1" height="4.1" fill="#010F62"/><rect x="274.45" y="391.65" width="4.1" height="4.1" fill="#F2AE1E"/><rect x="274.45" y="388.95" width="4.1" height="4.1" fill="#59A329"/><path d="M276.50,384.50L279.50,389.65L273.50,389.65Z" fill="#59A329"/><circle cx="276.5" cy="407.5" r="2.2" fill="#59A329"/><circle cx="276.1" cy="403.9" r="2.2" fill="#E0205E"/><path d="M274.30,402.40L277.30,407.55L271.30,407.55Z" fill="#E0205E"/><circle cx="280.9" cy="405.6" r="2.2" fill="#010F62"/><circle cx="276.5" cy="413.5" r="2.2" fill="#F2AE1E"/><path d="M312.50,369.00L315.50,374.15L309.50,374.15Z" fill="#F2AE1E"/><path d="M312.50,371.60L315.50,376.75L309.50,376.75Z" fill="#010F62"/><rect x="310.45" y="376.45" width="4.1" height="4.1" fill="#E0205E"/><rect x="310.45" y="380.65" width="4.1" height="4.1" fill="#010F62"/><path d="M312.50,384.20L315.50,389.35L309.50,389.35Z" fill="#59A329"/><rect x="315.05" y="387.75" width="4.1" height="4.1" fill="#59A329"/><rect x="310.45" y="388.75" width="4.1" height="4.1" fill="#F2AE1E"/><path d="M312.50,402.40L315.50,407.55L309.50,407.55Z" fill="#E0205E"/><circle cx="317.5" cy="406.3" r="2.2" fill="#59A329"/><circle cx="312.5" cy="409.9" r="2.2" fill="#010F62"/><circle cx="312.5" cy="417.3" r="2.2" fill="#F2AE1E"/>
<rect x="38.5" y="360.5" width="295.70" height="89.80" fill="none" stroke="#858585" stroke-width="1.07"/>
<line x1="383.8" x2="679.8" y1="371.2" y2="371.2" stroke="#EBEBEB" stroke-width="1.07"/>
<line x1="383.8" x2="679.8" y1="395.1" y2="395.1" stroke="#EBEBEB" stroke-width="1.07"/>
<line x1="383.8" x2="679.8" y1="419.3" y2="419.3" stroke="#EBEBEB" stroke-width="1.07"/>
<line x1="383.8" x2="679.8" y1="443.2" y2="443.2" stroke="#EBEBEB" stroke-width="1.07"/>
<line x1="405.28" x2="405.28" y1="360.5" y2="450.3" stroke="#EBEBEB" stroke-width="1.07"/>
<line x1="441.42" x2="441.42" y1="360.5" y2="450.3" stroke="#EBEBEB" stroke-width="1.07"/>
<line x1="477.56" x2="477.56" y1="360.5" y2="450.3" stroke="#EBEBEB" stroke-width="1.07"/>
<line x1="513.70" x2="513.70" y1="360.5" y2="450.3" stroke="#EBEBEB" stroke-width="1.07"/>
<line x1="549.84" x2="549.84" y1="360.5" y2="450.3" stroke="#EBEBEB" stroke-width="1.07"/>
<line x1="585.98" x2="585.98" y1="360.5" y2="450.3" stroke="#EBEBEB" stroke-width="1.07"/>
<line x1="622.12" x2="622.12" y1="360.5" y2="450.3" stroke="#EBEBEB" stroke-width="1.07"/>
<line x1="658.26" x2="658.26" y1="360.5" y2="450.3" stroke="#EBEBEB" stroke-width="1.07"/>
<line x1="380.40" x2="383.8" y1="371.2" y2="371.2" stroke="#262626" stroke-width="1.07"/>
<text x="378.40" y="374.80" text-anchor="end" font-size="9.4" fill="#333333" stroke="#333333" stroke-width="0.28" font-family="Liberation Sans, sans-serif" text-rendering="geometricPrecision">2.5</text>
<line x1="380.40" x2="383.8" y1="395.1" y2="395.1" stroke="#262626" stroke-width="1.07"/>
<text x="378.40" y="398.70" text-anchor="end" font-size="9.4" fill="#333333" stroke="#333333" stroke-width="0.28" font-family="Liberation Sans, sans-serif" text-rendering="geometricPrecision">2.0</text>
<line x1="380.40" x2="383.8" y1="419.3" y2="419.3" stroke="#262626" stroke-width="1.07"/>
<text x="378.40" y="422.90" text-anchor="end" font-size="9.4" fill="#333333" stroke="#333333" stroke-width="0.28" font-family="Liberation Sans, sans-serif" text-rendering="geometricPrecision">1.5</text>
<line x1="380.40" x2="383.8" y1="443.2" y2="443.2" stroke="#262626" stroke-width="1.07"/>
<text x="378.40" y="446.80" text-anchor="end" font-size="9.4" fill="#333333" stroke="#333333" stroke-width="0.28" font-family="Liberation Sans, sans-serif" text-rendering="geometricPrecision">1.0</text>
<line x1="405.28" x2="405.28" y1="450.3" y2="453.5" stroke="#262626" stroke-width="1.07"/>
<text x="405.28" y="462.10" text-anchor="middle" font-size="9.4" fill="#333333" stroke="#333333" stroke-width="0.28" font-family="Liberation Sans, sans-serif" text-rendering="geometricPrecision">100</text>
<line x1="441.42" x2="441.42" y1="450.3" y2="453.5" stroke="#262626" stroke-width="1.07"/>
<text x="441.42" y="462.10" text-anchor="middle" font-size="9.4" fill="#333333" stroke="#333333" stroke-width="0.28" font-family="Liberation Sans, sans-serif" text-rendering="geometricPrecision">200</text>
<line x1="477.56" x2="477.56" y1="450.3" y2="453.5" stroke="#262626" stroke-width="1.07"/>
<text x="477.56" y="462.10" text-anchor="middle" font-size="9.4" fill="#333333" stroke="#333333" stroke-width="0.28" font-family="Liberation Sans, sans-serif" text-rendering="geometricPrecision">300</text>
<line x1="513.70" x2="513.70" y1="450.3" y2="453.5" stroke="#262626" stroke-width="1.07"/>
<text x="513.70" y="462.10" text-anchor="middle" font-size="9.4" fill="#333333" stroke="#333333" stroke-width="0.28" font-family="Liberation Sans, sans-serif" text-rendering="geometricPrecision">400</text>
<line x1="549.84" x2="549.84" y1="450.3" y2="453.5" stroke="#262626" stroke-width="1.07"/>
<text x="549.84" y="462.10" text-anchor="middle" font-size="9.4" fill="#333333" stroke="#333333" stroke-width="0.28" font-family="Liberation Sans, sans-serif" text-rendering="geometricPrecision">500</text>
<line x1="585.98" x2="585.98" y1="450.3" y2="453.5" stroke="#262626" stroke-width="1.07"/>
<text x="585.98" y="462.10" text-anchor="middle" font-size="9.4" fill="#333333" stroke="#333333" stroke-width="0.28" font-family="Liberation Sans, sans-serif" text-rendering="geometricPrecision">600</text>
<line x1="622.12" x2="622.12" y1="450.3" y2="453.5" stroke="#262626" stroke-width="1.07"/>
<text x="622.12" y="462.10" text-anchor="middle" font-size="9.4" fill="#333333" stroke="#333333" stroke-width="0.28" font-family="Liberation Sans, sans-serif" text-rendering="geometricPrecision">700</text>
<line x1="658.26" x2="658.26" y1="450.3" y2="453.5" stroke="#262626" stroke-width="1.07"/>
<text x="658.26" y="462.10" text-anchor="middle" font-size="9.4" fill="#333333" stroke="#333333" stroke-width="0.28" font-family="Liberation Sans, sans-serif" text-rendering="geometricPrecision">Europe</text>
<rect x="403.05" y="362.45" width="4.1" height="4.1" fill="#010F62"/><rect x="403.05" y="388.35" width="4.1" height="4.1" fill="#E0205E"/><rect x="403.05" y="396.75" width="4.1" height="4.1" fill="#59A329"/><rect x="403.05" y="400.95" width="4.1" height="4.1" fill="#F2AE1E"/><circle cx="405.1" cy="417.3" r="2.2" fill="#E0205E"/><circle cx="405.1" cy="421.1" r="2.2" fill="#F2AE1E"/><path d="M405.10,423.20L408.10,428.35L402.10,428.35Z" fill="#010F62"/><path d="M409.90,422.40L412.90,427.55L406.90,427.55Z" fill="#F2AE1E"/><path d="M409.90,426.30L412.90,431.45L406.90,431.45Z" fill="#59A329"/><circle cx="405.1" cy="430.4" r="2.2" fill="#010F62"/><circle cx="405.1" cy="444.1" r="2.2" fill="#59A329"/><path d="M405.10,439.40L408.10,444.55L402.10,444.55Z" fill="#E0205E"/><rect x="439.45" y="397.15" width="4.1" height="4.1" fill="#010F62"/><rect x="439.45" y="400.65" width="4.1" height="4.1" fill="#59A329"/><rect x="439.45" y="410.25" width="4.1" height="4.1" fill="#E0205E"/><rect x="439.45" y="418.55" width="4.1" height="4.1" fill="#F2AE1E"/><circle cx="441.5" cy="425.4" r="2.2" fill="#010F62"/><circle cx="434.9" cy="429.5" r="2.2" fill="#59A329"/><path d="M440.30,426.50L443.30,431.65L437.30,431.65Z" fill="#F2AE1E"/><path d="M441.50,428.30L444.50,433.45L438.50,433.45Z" fill="#010F62"/><circle cx="445.9" cy="430.4" r="2.2" fill="#E0205E"/><rect x="439.45" y="432.55" width="4.1" height="4.1" fill="#59A329"/><circle cx="441.5" cy="436.4" r="2.2" fill="#F2AE1E"/><path d="M441.50,439.40L444.50,444.55L438.50,444.55Z" fill="#E0205E"/><rect x="475.35" y="410.85" width="4.1" height="4.1" fill="#010F62"/><rect x="475.35" y="415.45" width="4.1" height="4.1" fill="#E0205E"/><rect x="479.45" y="414.75" width="4.1" height="4.1" fill="#59A329"/><rect x="475.35" y="422.75" width="4.1" height="4.1" fill="#F2AE1E"/><path d="M477.40,427.50L480.40,432.65L474.40,432.65Z" fill="#F2AE1E"/><circle cx="474.0" cy="432.3" r="2.2" fill="#010F62"/><path d="M473.70,431.60L476.70,436.75L470.70,436.75Z" fill="#59A329"/><path d="M478.50,430.50L481.50,435.65L475.50,435.65Z" fill="#010F62"/><circle cx="477.4" cy="436.2" r="2.2" fill="#E0205E"/><circle cx="482.8" cy="434.8" r="2.2" fill="#59A329"/><circle cx="477.4" cy="440.2" r="2.2" fill="#F2AE1E"/><path d="M477.40,440.80L480.40,445.95L474.40,445.95Z" fill="#E0205E"/><rect x="511.65" y="408.65" width="4.1" height="4.1" fill="#010F62"/><rect x="513.75" y="413.05" width="4.1" height="4.1" fill="#59A329"/><rect x="511.65" y="414.45" width="4.1" height="4.1" fill="#E0205E"/><rect x="511.65" y="425.25" width="4.1" height="4.1" fill="#F2AE1E"/><circle cx="513.7" cy="430.0" r="2.2" fill="#010F62"/><path d="M506.60,429.20L509.60,434.35L503.60,434.35Z" fill="#F2AE1E"/><path d="M509.90,431.10L512.90,436.25L506.90,436.25Z" fill="#59A329"/><path d="M515.30,430.00L518.30,435.15L512.30,435.15Z" fill="#010F62"/><circle cx="513.7" cy="434.8" r="2.2" fill="#59A329"/><circle cx="519.1" cy="434.3" r="2.2" fill="#E0205E"/><circle cx="513.7" cy="439.9" r="2.2" fill="#F2AE1E"/><path d="M513.70,440.80L516.70,445.95L510.70,445.95Z" fill="#E0205E"/><rect x="547.75" y="413.65" width="4.1" height="4.1" fill="#010F62"/><rect x="547.75" y="417.35" width="4.1" height="4.1" fill="#59A329"/><rect x="553.05" y="416.95" width="4.1" height="4.1" fill="#E0205E"/><rect x="547.75" y="428.95" width="4.1" height="4.1" fill="#F2AE1E"/><path d="M540.80,431.60L543.80,436.75L537.80,436.75Z" fill="#010F62"/><path d="M544.60,429.60L547.60,434.75L541.60,434.75Z" fill="#F2AE1E"/><circle cx="546.7" cy="434.8" r="2.2" fill="#E0205E"/><circle cx="549.8" cy="433.2" r="2.2" fill="#010F62"/><path d="M549.80,433.20L552.80,438.35L546.80,438.35Z" fill="#59A329"/><circle cx="555.1" cy="434.8" r="2.2" fill="#59A329"/><path d="M549.80,441.90L552.80,447.05L546.80,447.05Z" fill="#E0205E"/><circle cx="555.1" cy="444.6" r="2.2" fill="#F2AE1E"/><rect x="583.95" y="416.25" width="4.1" height="4.1" fill="#010F62"/><rect x="583.95" y="417.65" width="4.1" height="4.1" fill="#59A329"/><rect x="588.95" y="416.95" width="4.1" height="4.1" fill="#010F62"/><rect x="583.95" y="420.35" width="4.1" height="4.1" fill="#E0205E"/><rect x="572.25" y="431.15" width="4.1" height="4.1" fill="#F2AE1E"/><circle cx="579.9" cy="433.8" r="2.2" fill="#010F62"/><path d="M585.30,431.10L588.30,436.25L582.30,436.25Z" fill="#010F62"/><circle cx="589.2" cy="434.8" r="2.2" fill="#59A329"/><circle cx="591.4" cy="433.8" r="2.2" fill="#59A329"/><path d="M596.40,430.00L599.40,435.15L593.40,435.15Z" fill="#F2AE1E"/><circle cx="586.0" cy="436.7" r="2.2" fill="#E0205E"/><path d="M590.50,440.80L593.50,445.95L587.50,445.95Z" fill="#E0205E"/><path d="M586.00,439.80L589.00,444.95L583.00,444.95Z" fill="#E0205E"/><circle cx="586.0" cy="444.6" r="2.2" fill="#F2AE1E"/><rect x="619.35" y="416.55" width="4.1" height="4.1" fill="#59A329"/><rect x="619.95" y="419.75" width="4.1" height="4.1" fill="#E0205E"/><rect x="623.85" y="418.05" width="4.1" height="4.1" fill="#010F62"/><path d="M605.60,431.40L608.60,436.55L602.60,436.55Z" fill="#59A329"/><path d="M611.10,431.70L614.10,436.85L608.10,436.85Z" fill="#F2AE1E"/><circle cx="616.9" cy="434.6" r="2.2" fill="#E0205E"/><path d="M622.00,429.90L625.00,435.05L619.00,435.05Z" fill="#010F62"/><circle cx="622.0" cy="435.5" r="2.2" fill="#59A329"/><circle cx="627.1" cy="434.6" r="2.2" fill="#010F62"/><rect x="630.85" y="432.35" width="4.1" height="4.1" fill="#F2AE1E"/><path d="M622.00,440.80L625.00,445.95L619.00,445.95Z" fill="#E0205E"/><circle cx="622.0" cy="446.6" r="2.2" fill="#F2AE1E"/><rect x="656.15" y="417.75" width="4.1" height="4.1" fill="#010F62"/><rect x="656.15" y="422.75" width="4.1" height="4.1" fill="#59A329"/><rect x="661.05" y="422.05" width="4.1" height="4.1" fill="#E0205E"/><rect x="656.15" y="427.05" width="4.1" height="4.1" fill="#F2AE1E"/><rect x="656.15" y="429.75" width="4.1" height="4.1" fill="#F2AE1E"/><path d="M653.50,432.30L656.50,437.45L650.50,437.45Z" fill="#010F62"/><circle cx="658.2" cy="436.1" r="2.2" fill="#010F62"/><path d="M663.10,432.30L666.10,437.45L660.10,437.45Z" fill="#59A329"/><circle cx="664.0" cy="440.5" r="2.2" fill="#59A329"/><circle cx="658.2" cy="440.5" r="2.2" fill="#E0205E"/><path d="M658.20,441.30L661.20,446.45L655.20,446.45Z" fill="#E0205E"/><circle cx="658.2" cy="447.0" r="2.2" fill="#F2AE1E"/>
<rect x="383.8" y="360.5" width="296.00" height="89.80" fill="none" stroke="#858585" stroke-width="1.07"/>
<text transform="translate(8.8,405.40) rotate(-90)" text-anchor="middle" font-size="11.8" fill="#000" stroke="#000" stroke-width="0.15" font-family="Liberation Sans, sans-serif" text-rendering="geometricPrecision">MCS</text>
<line x1="38.5" x2="334.2" y1="478.4" y2="478.4" stroke="#EBEBEB" stroke-width="1.07"/>
<line x1="38.5" x2="334.2" y1="502.2" y2="502.2" stroke="#EBEBEB" stroke-width="1.07"/>
<line x1="38.5" x2="334.2" y1="526.4" y2="526.4" stroke="#EBEBEB" stroke-width="1.07"/>
<line x1="38.5" x2="334.2" y1="550.2" y2="550.2" stroke="#EBEBEB" stroke-width="1.07"/>
<line x1="59.64" x2="59.64" y1="476.5" y2="566.1" stroke="#EBEBEB" stroke-width="1.07"/>
<line x1="95.78" x2="95.78" y1="476.5" y2="566.1" stroke="#EBEBEB" stroke-width="1.07"/>
<line x1="131.92" x2="131.92" y1="476.5" y2="566.1" stroke="#EBEBEB" stroke-width="1.07"/>
<line x1="168.06" x2="168.06" y1="476.5" y2="566.1" stroke="#EBEBEB" stroke-width="1.07"/>
<line x1="204.20" x2="204.20" y1="476.5" y2="566.1" stroke="#EBEBEB" stroke-width="1.07"/>
<line x1="240.34" x2="240.34" y1="476.5" y2="566.1" stroke="#EBEBEB" stroke-width="1.07"/>
<line x1="276.48" x2="276.48" y1="476.5" y2="566.1" stroke="#EBEBEB" stroke-width="1.07"/>
<line x1="312.62" x2="312.62" y1="476.5" y2="566.1" stroke="#EBEBEB" stroke-width="1.07"/>
<line x1="35.10" x2="38.5" y1="478.4" y2="478.4" stroke="#262626" stroke-width="1.07"/>
<text x="33.10" y="482.00" text-anchor="end" font-size="9.4" fill="#333333" stroke="#333333" stroke-width="0.28" font-family="Liberation Sans, sans-serif" text-rendering="geometricPrecision">1.00</text>
<line x1="35.10" x2="38.5" y1="502.2" y2="502.2" stroke="#262626" stroke-width="1.07"/>
<text x="33.10" y="505.80" text-anchor="end" font-size="9.4" fill="#333333" stroke="#333333" stroke-width="0.28" font-family="Liberation Sans, sans-serif" text-rendering="geometricPrecision">0.95</text>
<line x1="35.10" x2="38.5" y1="526.4" y2="526.4" stroke="#262626" stroke-width="1.07"/>
<text x="33.10" y="530.00" text-anchor="end" font-size="9.4" fill="#333333" stroke="#333333" stroke-width="0.28" font-family="Liberation Sans, sans-serif" text-rendering="geometricPrecision">0.90</text>
<line x1="35.10" x2="38.5" y1="550.2" y2="550.2" stroke="#262626" stroke-width="1.07"/>
<text x="33.10" y="553.80" text-anchor="end" font-size="9.4" fill="#333333" stroke="#333333" stroke-width="0.28" font-family="Liberation Sans, sans-serif" text-rendering="geometricPrecision">0.85</text>
<line x1="59.64" x2="59.64" y1="566.1" y2="569.3000000000001" stroke="#262626" stroke-width="1.07"/>
<text x="59.64" y="577.90" text-anchor="middle" font-size="9.4" fill="#333333" stroke="#333333" stroke-width="0.28" font-family="Liberation Sans, sans-serif" text-rendering="geometricPrecision">100</text>
<line x1="95.78" x2="95.78" y1="566.1" y2="569.3000000000001" stroke="#262626" stroke-width="1.07"/>
<text x="95.78" y="577.90" text-anchor="middle" font-size="9.4" fill="#333333" stroke="#333333" stroke-width="0.28" font-family="Liberation Sans, sans-serif" text-rendering="geometricPrecision">200</text>
<line x1="131.92" x2="131.92" y1="566.1" y2="569.3000000000001" stroke="#262626" stroke-width="1.07"/>
<text x="131.92" y="577.90" text-anchor="middle" font-size="9.4" fill="#333333" stroke="#333333" stroke-width="0.28" font-family="Liberation Sans, sans-serif" text-rendering="geometricPrecision">300</text>
<line x1="168.06" x2="168.06" y1="566.1" y2="569.3000000000001" stroke="#262626" stroke-width="1.07"/>
<text x="168.06" y="577.90" text-anchor="middle" font-size="9.4" fill="#333333" stroke="#333333" stroke-width="0.28" font-family="Liberation Sans, sans-serif" text-rendering="geometricPrecision">400</text>
<line x1="204.20" x2="204.20" y1="566.1" y2="569.3000000000001" stroke="#262626" stroke-width="1.07"/>
<text x="204.20" y="577.90" text-anchor="middle" font-size="9.4" fill="#333333" stroke="#333333" stroke-width="0.28" font-family="Liberation Sans, sans-serif" text-rendering="geometricPrecision">500</text>
<line x1="240.34" x2="240.34" y1="566.1" y2="569.3000000000001" stroke="#262626" stroke-width="1.07"/>
<text x="240.34" y="577.90" text-anchor="middle" font-size="9.4" fill="#333333" stroke="#333333" stroke-width="0.28" font-family="Liberation Sans, sans-serif" text-rendering="geometricPrecision">600</text>
<line x1="276.48" x2="276.48" y1="566.1" y2="569.3000000000001" stroke="#262626" stroke-width="1.07"/>
<text x="276.48" y="577.90" text-anchor="middle" font-size="9.4" fill="#333333" stroke="#333333" stroke-width="0.28" font-family="Liberation Sans, sans-serif" text-rendering="geometricPrecision">700</text>
<line x1="312.62" x2="312.62" y1="566.1" y2="569.3000000000001" stroke="#262626" stroke-width="1.07"/>
<text x="312.62" y="577.90" text-anchor="middle" font-size="9.4" fill="#333333" stroke="#333333" stroke-width="0.28" font-family="Liberation Sans, sans-serif" text-rendering="geometricPrecision">Europe</text>
<path d="M56.50,481.70L59.50,486.85L53.50,486.85Z" fill="#010F62"/><path d="M59.20,480.70L62.20,485.85L56.20,485.85Z" fill="#010F62"/><rect x="60.45" y="482.95" width="4.1" height="4.1" fill="#E0205E"/><path d="M56.50,485.80L59.50,490.95L53.50,490.95Z" fill="#F2AE1E"/><rect x="57.65" y="484.65" width="4.1" height="4.1" fill="#59A329"/><path d="M59.70,487.00L62.70,492.15L56.70,492.15Z" fill="#59A329"/><circle cx="65.2" cy="489.7" r="2.2" fill="#59A329"/><rect x="57.65" y="491.85" width="4.1" height="4.1" fill="#F2AE1E"/><rect x="57.65" y="494.25" width="4.1" height="4.1" fill="#F2AE1E"/><rect x="57.65" y="497.25" width="4.1" height="4.1" fill="#010F62"/><circle cx="64.0" cy="497.7" r="2.2" fill="#010F62"/><circle cx="59.7" cy="509.2" r="2.2" fill="#E0205E"/><path d="M59.70,559.20L62.70,564.35L56.70,564.35Z" fill="#E0205E"/><path d="M96.00,477.10L99.00,482.25L93.00,482.25Z" fill="#F2AE1E"/><rect x="93.95" y="480.55" width="4.1" height="4.1" fill="#E0205E"/><path d="M98.90,479.30L101.90,484.45L95.90,484.45Z" fill="#010F62"/><circle cx="90.5" cy="485.3" r="2.2" fill="#010F62"/><rect x="93.95" y="483.25" width="4.1" height="4.1" fill="#010F62"/><path d="M101.30,482.60L104.30,487.75L98.30,487.75Z" fill="#59A329"/><rect x="104.55" y="482.95" width="4.1" height="4.1" fill="#F2AE1E"/><circle cx="93.9" cy="488.9" r="2.2" fill="#F2AE1E"/><path d="M99.50,487.00L102.50,492.15L96.50,492.15Z" fill="#E0205E"/><rect x="93.95" y="488.85" width="4.1" height="4.1" fill="#59A329"/><circle cx="96.0" cy="498.4" r="2.2" fill="#E0205E"/><circle cx="96.0" cy="501.1" r="2.2" fill="#59A329"/><path d="M132.00,479.20L135.00,484.35L129.00,484.35Z" fill="#010F62"/><path d="M126.40,481.90L129.40,487.05L123.40,487.05Z" fill="#59A329"/><circle cx="132.0" cy="486.8" r="2.2" fill="#F2AE1E"/><rect x="135.65" y="484.75" width="4.1" height="4.1" fill="#59A329"/><rect x="129.95" y="488.55" width="4.1" height="4.1" fill="#010F62"/><circle cx="132.0" cy="493.3" r="2.2" fill="#010F62"/><path d="M126.90,490.00L129.90,495.15L123.90,495.15Z" fill="#E0205E"/><rect x="135.85" y="491.45" width="4.1" height="4.1" fill="#E0205E"/><circle cx="142.5" cy="492.7" r="2.2" fill="#59A329"/><circle cx="132.0" cy="498.5" r="2.2" fill="#F2AE1E"/><circle cx="132.0" cy="506.0" r="2.2" fill="#E0205E"/><path d="M163.30,478.70L166.30,483.85L160.30,483.85Z" fill="#F2AE1E"/><path d="M168.00,478.20L171.00,483.35L165.00,483.35Z" fill="#59A329"/><path d="M173.40,478.70L176.40,483.85L170.40,483.85Z" fill="#010F62"/><circle cx="168.0" cy="485.7" r="2.2" fill="#010F62"/><rect x="171.75" y="483.65" width="4.1" height="4.1" fill="#F2AE1E"/><path d="M173.80,484.10L176.80,489.25L170.80,489.25Z" fill="#E0205E"/><rect x="165.95" y="487.45" width="4.1" height="4.1" fill="#59A329"/><circle cx="168.0" cy="493.8" r="2.2" fill="#F2AE1E"/><rect x="170.25" y="490.65" width="4.1" height="4.1" fill="#010F62"/><rect x="165.95" y="496.05" width="4.1" height="4.1" fill="#E0205E"/><circle cx="172.7" cy="497.6" r="2.2" fill="#E0205E"/><path d="M204.40,478.20L207.40,483.35L201.40,483.35Z" fill="#010F62"/><path d="M210.00,478.50L213.00,483.65L207.00,483.65Z" fill="#F2AE1E"/><path d="M193.30,482.50L196.30,487.65L190.30,487.65Z" fill="#59A329"/><rect x="196.95" y="483.65" width="4.1" height="4.1" fill="#59A329"/><circle cx="204.4" cy="483.6" r="2.2" fill="#010F62"/><path d="M204.40,483.60L207.40,488.75L201.40,488.75Z" fill="#E0205E"/><rect x="207.95" y="483.85" width="4.1" height="4.1" fill="#010F62"/><rect x="202.35" y="487.45" width="4.1" height="4.1" fill="#F2AE1E"/><circle cx="208.9" cy="489.5" r="2.2" fill="#F2AE1E"/><rect x="202.35" y="491.75" width="4.1" height="4.1" fill="#E0205E"/><circle cx="204.4" cy="497.1" r="2.2" fill="#59A329"/><circle cx="204.4" cy="501.1" r="2.2" fill="#E0205E"/><path d="M228.70,480.30L231.70,485.45L225.70,485.45Z" fill="#010F62"/><circle cx="234.1" cy="483.8" r="2.2" fill="#010F62"/><path d="M240.60,479.20L243.60,484.35L237.60,484.35Z" fill="#010F62"/><path d="M239.50,481.10L242.50,486.25L236.50,486.25Z" fill="#E0205E"/><rect x="245.55" y="481.75" width="4.1" height="4.1" fill="#010F62"/><circle cx="244.3" cy="485.2" r="2.2" fill="#59A329"/><path d="M238.40,484.60L241.40,489.75L235.40,489.75Z" fill="#59A329"/><circle cx="241.1" cy="489.0" r="2.2" fill="#F2AE1E"/><rect x="234.15" y="488.55" width="4.1" height="4.1" fill="#59A329"/><rect x="245.35" y="487.45" width="4.1" height="4.1" fill="#E0205E"/><path d="M246.30,488.40L249.30,493.55L243.30,493.55Z" fill="#F2AE1E"/><circle cx="240.6" cy="492.0" r="2.2" fill="#E0205E"/><path d="M265.40,479.80L268.40,484.95L262.40,484.95Z" fill="#59A329"/><path d="M271.00,480.00L274.00,485.15L268.00,485.15Z" fill="#F2AE1E"/><path d="M276.40,479.20L279.40,484.35L273.40,484.35Z" fill="#010F62"/><circle cx="282.1" cy="483.0" r="2.2" fill="#59A329"/><circle cx="276.4" cy="484.6" r="2.2" fill="#010F62"/><rect x="268.95" y="484.75" width="4.1" height="4.1" fill="#010F62"/><path d="M276.40,484.10L279.40,489.25L273.40,489.25Z" fill="#E0205E"/><rect x="280.05" y="485.25" width="4.1" height="4.1" fill="#59A329"/><rect x="274.35" y="487.95" width="4.1" height="4.1" fill="#F2AE1E"/><rect x="274.35" y="491.75" width="4.1" height="4.1" fill="#E0205E"/><circle cx="276.4" cy="500.3" r="2.2" fill="#F2AE1E"/><circle cx="276.4" cy="509.0" r="2.2" fill="#E0205E"/><path d="M301.30,478.90L304.30,484.05L298.30,484.05Z" fill="#010F62"/><rect x="304.95" y="479.85" width="4.1" height="4.1" fill="#E0205E"/><rect x="310.45" y="480.45" width="4.1" height="4.1" fill="#E0205E"/><path d="M312.50,478.70L315.50,483.85L309.50,483.85Z" fill="#010F62"/><path d="M318.30,479.20L321.30,484.35L315.30,484.35Z" fill="#F2AE1E"/><rect x="302.25" y="484.75" width="4.1" height="4.1" fill="#F2AE1E"/><circle cx="309.2" cy="487.9" r="2.2" fill="#F2AE1E"/><rect x="306.05" y="487.95" width="4.1" height="4.1" fill="#59A329"/><path d="M312.50,485.20L315.50,490.35L309.50,490.35Z" fill="#59A329"/><path d="M316.20,484.60L319.20,489.75L313.20,489.75Z" fill="#010F62"/><circle cx="317.8" cy="490.6" r="2.2" fill="#010F62"/><circle cx="312.5" cy="491.7" r="2.2" fill="#E0205E"/>
<rect x="38.5" y="476.5" width="295.70" height="89.60" fill="none" stroke="#858585" stroke-width="1.07"/>
<line x1="383.8" x2="679.8" y1="479.7" y2="479.7" stroke="#EBEBEB" stroke-width="1.07"/>
<line x1="383.8" x2="679.8" y1="500.1" y2="500.1" stroke="#EBEBEB" stroke-width="1.07"/>
<line x1="383.8" x2="679.8" y1="520.4" y2="520.4" stroke="#EBEBEB" stroke-width="1.07"/>
<line x1="383.8" x2="679.8" y1="540.6" y2="540.6" stroke="#EBEBEB" stroke-width="1.07"/>
<line x1="383.8" x2="679.8" y1="560.8" y2="560.8" stroke="#EBEBEB" stroke-width="1.07"/>
<line x1="405.28" x2="405.28" y1="476.5" y2="566.1" stroke="#EBEBEB" stroke-width="1.07"/>
<line x1="441.42" x2="441.42" y1="476.5" y2="566.1" stroke="#EBEBEB" stroke-width="1.07"/>
<line x1="477.56" x2="477.56" y1="476.5" y2="566.1" stroke="#EBEBEB" stroke-width="1.07"/>
<line x1="513.70" x2="513.70" y1="476.5" y2="566.1" stroke="#EBEBEB" stroke-width="1.07"/>
<line x1="549.84" x2="549.84" y1="476.5" y2="566.1" stroke="#EBEBEB" stroke-width="1.07"/>
<line x1="585.98" x2="585.98" y1="476.5" y2="566.1" stroke="#EBEBEB" stroke-width="1.07"/>
<line x1="622.12" x2="622.12" y1="476.5" y2="566.1" stroke="#EBEBEB" stroke-width="1.07"/>
<line x1="658.26" x2="658.26" y1="476.5" y2="566.1" stroke="#EBEBEB" stroke-width="1.07"/>
<line x1="380.40" x2="383.8" y1="479.7" y2="479.7" stroke="#262626" stroke-width="1.07"/>
<text x="378.40" y="483.30" text-anchor="end" font-size="9.4" fill="#333333" stroke="#333333" stroke-width="0.28" font-family="Liberation Sans, sans-serif" text-rendering="geometricPrecision">1.00</text>
<line x1="380.40" x2="383.8" y1="500.1" y2="500.1" stroke="#262626" stroke-width="1.07"/>
<text x="378.40" y="503.70" text-anchor="end" font-size="9.4" fill="#333333" stroke="#333333" stroke-width="0.28" font-family="Liberation Sans, sans-serif" text-rendering="geometricPrecision">0.99</text>
<line x1="380.40" x2="383.8" y1="520.4" y2="520.4" stroke="#262626" stroke-width="1.07"/>
<text x="378.40" y="524.00" text-anchor="end" font-size="9.4" fill="#333333" stroke="#333333" stroke-width="0.28" font-family="Liberation Sans, sans-serif" text-rendering="geometricPrecision">0.98</text>
<line x1="380.40" x2="383.8" y1="540.6" y2="540.6" stroke="#262626" stroke-width="1.07"/>
<text x="378.40" y="544.20" text-anchor="end" font-size="9.4" fill="#333333" stroke="#333333" stroke-width="0.28" font-family="Liberation Sans, sans-serif" text-rendering="geometricPrecision">0.97</text>
<line x1="380.40" x2="383.8" y1="560.8" y2="560.8" stroke="#262626" stroke-width="1.07"/>
<text x="378.40" y="564.40" text-anchor="end" font-size="9.4" fill="#333333" stroke="#333333" stroke-width="0.28" font-family="Liberation Sans, sans-serif" text-rendering="geometricPrecision">0.96</text>
<line x1="405.28" x2="405.28" y1="566.1" y2="569.3000000000001" stroke="#262626" stroke-width="1.07"/>
<text x="405.28" y="577.90" text-anchor="middle" font-size="9.4" fill="#333333" stroke="#333333" stroke-width="0.28" font-family="Liberation Sans, sans-serif" text-rendering="geometricPrecision">100</text>
<line x1="441.42" x2="441.42" y1="566.1" y2="569.3000000000001" stroke="#262626" stroke-width="1.07"/>
<text x="441.42" y="577.90" text-anchor="middle" font-size="9.4" fill="#333333" stroke="#333333" stroke-width="0.28" font-family="Liberation Sans, sans-serif" text-rendering="geometricPrecision">200</text>
<line x1="477.56" x2="477.56" y1="566.1" y2="569.3000000000001" stroke="#262626" stroke-width="1.07"/>
<text x="477.56" y="577.90" text-anchor="middle" font-size="9.4" fill="#333333" stroke="#333333" stroke-width="0.28" font-family="Liberation Sans, sans-serif" text-rendering="geometricPrecision">300</text>
<line x1="513.70" x2="513.70" y1="566.1" y2="569.3000000000001" stroke="#262626" stroke-width="1.07"/>
<text x="513.70" y="577.90" text-anchor="middle" font-size="9.4" fill="#333333" stroke="#333333" stroke-width="0.28" font-family="Liberation Sans, sans-serif" text-rendering="geometricPrecision">400</text>
<line x1="549.84" x2="549.84" y1="566.1" y2="569.3000000000001" stroke="#262626" stroke-width="1.07"/>
<text x="549.84" y="577.90" text-anchor="middle" font-size="9.4" fill="#333333" stroke="#333333" stroke-width="0.28" font-family="Liberation Sans, sans-serif" text-rendering="geometricPrecision">500</text>
<line x1="585.98" x2="585.98" y1="566.1" y2="569.3000000000001" stroke="#262626" stroke-width="1.07"/>
<text x="585.98" y="577.90" text-anchor="middle" font-size="9.4" fill="#333333" stroke="#333333" stroke-width="0.28" font-family="Liberation Sans, sans-serif" text-rendering="geometricPrecision">600</text>
<line x1="622.12" x2="622.12" y1="566.1" y2="569.3000000000001" stroke="#262626" stroke-width="1.07"/>
<text x="622.12" y="577.90" text-anchor="middle" font-size="9.4" fill="#333333" stroke="#333333" stroke-width="0.28" font-family="Liberation Sans, sans-serif" text-rendering="geometricPrecision">700</text>
<line x1="658.26" x2="658.26" y1="566.1" y2="569.3000000000001" stroke="#262626" stroke-width="1.07"/>
<text x="658.26" y="577.90" text-anchor="middle" font-size="9.4" fill="#333333" stroke="#333333" stroke-width="0.28" font-family="Liberation Sans, sans-serif" text-rendering="geometricPrecision">Europe</text>
<rect x="403.05" y="477.75" width="4.1" height="4.1" fill="#E0205E"/><rect x="403.05" y="479.35" width="4.1" height="4.1" fill="#E0205E"/><path d="M405.10,481.10L408.10,486.25L402.10,486.25Z" fill="#F2AE1E"/><path d="M397.00,483.10L400.00,488.25L394.00,488.25Z" fill="#E0205E"/><path d="M401.50,484.30L404.50,489.45L398.50,489.45Z" fill="#010F62"/><rect x="406.65" y="485.25" width="4.1" height="4.1" fill="#010F62"/><circle cx="405.1" cy="488.5" r="2.2" fill="#F2AE1E"/><path d="M405.10,492.20L408.10,497.35L402.10,497.35Z" fill="#59A329"/><circle cx="405.1" cy="503.5" r="2.2" fill="#010F62"/><rect x="403.05" y="512.35" width="4.1" height="4.1" fill="#59A329"/><rect x="403.05" y="552.95" width="4.1" height="4.1" fill="#F2AE1E"/><circle cx="405.1" cy="559.8" r="2.2" fill="#59A329"/><path d="M430.80,478.30L433.80,483.45L427.80,483.45Z" fill="#59A329"/><circle cx="436.7" cy="481.4" r="2.2" fill="#F2AE1E"/><rect x="439.45" y="477.75" width="4.1" height="4.1" fill="#59A329"/><rect x="439.45" y="479.95" width="4.1" height="4.1" fill="#010F62"/><rect x="443.65" y="478.95" width="4.1" height="4.1" fill="#E0205E"/><path d="M441.10,481.40L444.10,486.55L438.10,486.55Z" fill="#E0205E"/><path d="M446.90,481.10L449.90,486.25L443.90,486.25Z" fill="#F2AE1E"/><circle cx="441.5" cy="488.5" r="2.2" fill="#59A329"/><circle cx="446.9" cy="488.5" r="2.2" fill="#E0205E"/><circle cx="441.5" cy="491.5" r="2.2" fill="#010F62"/><path d="M441.50,491.80L444.50,496.95L438.50,496.95Z" fill="#010F62"/><rect x="439.45" y="510.75" width="4.1" height="4.1" fill="#F2AE1E"/><rect x="467.85" y="478.95" width="4.1" height="4.1" fill="#59A329"/><path d="M472.60,479.30L475.60,484.45L469.60,484.45Z" fill="#010F62"/><path d="M477.30,477.30L480.30,482.45L474.30,482.45Z" fill="#E0205E"/><path d="M477.30,478.10L480.30,483.25L474.30,483.25Z" fill="#59A329"/><path d="M482.80,479.30L485.80,484.45L479.80,484.45Z" fill="#F2AE1E"/><path d="M484.90,478.10L487.90,483.25L481.90,483.25Z" fill="#E0205E"/><circle cx="477.3" cy="483.8" r="2.2" fill="#F2AE1E"/><rect x="475.25" y="484.05" width="4.1" height="4.1" fill="#E0205E"/><rect x="481.05" y="487.05" width="4.1" height="4.1" fill="#010F62"/><rect x="475.25" y="487.65" width="4.1" height="4.1" fill="#F2AE1E"/><circle cx="477.3" cy="492.5" r="2.2" fill="#E0205E"/><circle cx="483.1" cy="491.8" r="2.2" fill="#59A329"/><circle cx="477.3" cy="505.6" r="2.2" fill="#010F62"/><rect x="505.85" y="479.35" width="4.1" height="4.1" fill="#59A329"/><path d="M513.50,477.30L516.50,482.45L510.50,482.45Z" fill="#E0205E"/><path d="M513.50,478.10L516.50,483.25L510.50,483.25Z" fill="#F2AE1E"/><path d="M518.90,477.80L521.90,482.95L515.90,482.95Z" fill="#E0205E"/><path d="M518.90,479.30L521.90,484.45L515.90,484.45Z" fill="#59A329"/><path d="M513.50,480.20L516.50,485.35L510.50,485.35Z" fill="#010F62"/><circle cx="513.5" cy="487.9" r="2.2" fill="#F2AE1E"/><circle cx="518.3" cy="488.2" r="2.2" fill="#F2AE1E"/><rect x="511.45" y="487.35" width="4.1" height="4.1" fill="#E0205E"/><circle cx="513.5" cy="493.7" r="2.2" fill="#E0205E"/><rect x="511.45" y="495.65" width="4.1" height="4.1" fill="#010F62"/><rect x="511.45" y="499.25" width="4.1" height="4.1" fill="#F2AE1E"/><circle cx="513.5" cy="508.2" r="2.2" fill="#59A329"/><circle cx="513.5" cy="534.5" r="2.2" fill="#010F62"/><path d="M541.00,477.50L544.00,482.65L538.00,482.65Z" fill="#010F62"/><path d="M546.70,477.80L549.70,482.95L543.70,482.95Z" fill="#59A329"/><path d="M549.70,476.90L552.70,482.05L546.70,482.05Z" fill="#010F62"/><rect x="547.65" y="479.95" width="4.1" height="4.1" fill="#59A329"/><path d="M554.80,478.30L557.80,483.45L551.80,483.45Z" fill="#F2AE1E"/><path d="M559.60,477.50L562.60,482.65L556.60,482.65Z" fill="#E0205E"/><circle cx="549.7" cy="486.5" r="2.2" fill="#F2AE1E"/><rect x="553.05" y="484.05" width="4.1" height="4.1" fill="#E0205E"/><rect x="547.65" y="490.05" width="4.1" height="4.1" fill="#F2AE1E"/><circle cx="549.7" cy="497.7" r="2.2" fill="#E0205E"/><circle cx="549.7" cy="500.5" r="2.2" fill="#59A329"/><rect x="547.65" y="505.25" width="4.1" height="4.1" fill="#010F62"/><circle cx="549.7" cy="518.0" r="2.2" fill="#010F62"/><circle cx="580.1" cy="481.7" r="2.2" fill="#F2AE1E"/><path d="M585.90,476.90L588.90,482.05L582.90,482.05Z" fill="#E0205E"/><path d="M585.90,479.90L588.90,485.05L582.90,485.05Z" fill="#59A329"/><rect x="583.85" y="482.35" width="4.1" height="4.1" fill="#59A329"/><path d="M591.50,479.00L594.50,484.15L588.50,484.15Z" fill="#010F62"/><path d="M596.20,478.10L599.20,483.25L593.20,483.25Z" fill="#F2AE1E"/><rect x="583.85" y="484.95" width="4.1" height="4.1" fill="#E0205E"/><rect x="583.85" y="488.05" width="4.1" height="4.1" fill="#F2AE1E"/><circle cx="585.9" cy="498.4" r="2.2" fill="#E0205E"/><circle cx="585.9" cy="501.7" r="2.2" fill="#59A329"/><circle cx="585.9" cy="504.4" r="2.2" fill="#010F62"/><rect x="583.85" y="515.15" width="4.1" height="4.1" fill="#010F62"/><path d="M616.20,478.30L619.20,483.45L613.20,483.45Z" fill="#E0205E"/><path d="M621.90,477.50L624.90,482.65L618.90,482.65Z" fill="#59A329"/><path d="M627.90,478.10L630.90,483.25L624.90,483.25Z" fill="#F2AE1E"/><path d="M618.60,481.40L621.60,486.55L615.60,486.55Z" fill="#010F62"/><rect x="619.85" y="481.35" width="4.1" height="4.1" fill="#59A329"/><rect x="624.05" y="481.45" width="4.1" height="4.1" fill="#F2AE1E"/><circle cx="626.1" cy="486.7" r="2.2" fill="#F2AE1E"/><rect x="619.85" y="484.05" width="4.1" height="4.1" fill="#59A329"/><rect x="619.85" y="487.35" width="4.1" height="4.1" fill="#E0205E"/><circle cx="621.9" cy="509.7" r="2.2" fill="#59A329"/><circle cx="621.9" cy="515.2" r="2.2" fill="#E0205E"/><circle cx="621.9" cy="536.9" r="2.2" fill="#010F62"/><rect x="619.85" y="560.15" width="4.1" height="4.1" fill="#010F62"/><path d="M657.50,476.90L660.50,482.05L654.50,482.05Z" fill="#E0205E"/><path d="M661.90,477.50L664.90,482.65L658.90,482.65Z" fill="#E0205E"/><path d="M658.10,479.30L661.10,484.45L655.10,484.45Z" fill="#59A329"/><path d="M658.10,480.70L661.10,485.85L655.10,485.85Z" fill="#010F62"/><circle cx="655.3" cy="487.9" r="2.2" fill="#F2AE1E"/><path d="M658.10,484.30L661.10,489.45L655.10,489.45Z" fill="#F2AE1E"/><rect x="661.05" y="486.45" width="4.1" height="4.1" fill="#010F62"/><rect x="656.05" y="487.05" width="4.1" height="4.1" fill="#59A329"/><rect x="656.05" y="491.25" width="4.1" height="4.1" fill="#E0205E"/><rect x="656.05" y="499.95" width="4.1" height="4.1" fill="#F2AE1E"/><circle cx="653.2" cy="515.4" r="2.2" fill="#59A329"/><circle cx="658.1" cy="516.3" r="2.2" fill="#010F62"/><circle cx="663.9" cy="516.0" r="2.2" fill="#E0205E"/>
<rect x="383.8" y="476.5" width="296.00" height="89.60" fill="none" stroke="#858585" stroke-width="1.07"/>
<text transform="translate(8.8,521.30) rotate(-90)" text-anchor="middle" font-size="11.8" fill="#000" stroke="#000" stroke-width="0.15" font-family="Liberation Sans, sans-serif" text-rendering="geometricPrecision">CBI</text>
<line x1="38.5" x2="334.2" y1="614.9" y2="614.9" stroke="#EBEBEB" stroke-width="1.07"/>
<line x1="38.5" x2="334.2" y1="634.7" y2="634.7" stroke="#EBEBEB" stroke-width="1.07"/>
<line x1="38.5" x2="334.2" y1="654.5" y2="654.5" stroke="#EBEBEB" stroke-width="1.07"/>
<line x1="38.5" x2="334.2" y1="674.3" y2="674.3" stroke="#EBEBEB" stroke-width="1.07"/>
<line x1="38.5" x2="334.2" y1="693.9" y2="693.9" stroke="#EBEBEB" stroke-width="1.07"/>
<line x1="59.64" x2="59.64" y1="611.8" y2="697.3" stroke="#EBEBEB" stroke-width="1.07"/>
<line x1="95.78" x2="95.78" y1="611.8" y2="697.3" stroke="#EBEBEB" stroke-width="1.07"/>
<line x1="131.92" x2="131.92" y1="611.8" y2="697.3" stroke="#EBEBEB" stroke-width="1.07"/>
<line x1="168.06" x2="168.06" y1="611.8" y2="697.3" stroke="#EBEBEB" stroke-width="1.07"/>
<line x1="204.20" x2="204.20" y1="611.8" y2="697.3" stroke="#EBEBEB" stroke-width="1.07"/>
<line x1="240.34" x2="240.34" y1="611.8" y2="697.3" stroke="#EBEBEB" stroke-width="1.07"/>
<line x1="276.48" x2="276.48" y1="611.8" y2="697.3" stroke="#EBEBEB" stroke-width="1.07"/>
<line x1="312.62" x2="312.62" y1="611.8" y2="697.3" stroke="#EBEBEB" stroke-width="1.07"/>
<line x1="35.10" x2="38.5" y1="614.9" y2="614.9" stroke="#262626" stroke-width="1.07"/>
<text x="33.10" y="618.50" text-anchor="end" font-size="9.4" fill="#333333" stroke="#333333" stroke-width="0.28" font-family="Liberation Sans, sans-serif" text-rendering="geometricPrecision">1.00</text>
<line x1="35.10" x2="38.5" y1="634.7" y2="634.7" stroke="#262626" stroke-width="1.07"/>
<text x="33.10" y="638.30" text-anchor="end" font-size="9.4" fill="#333333" stroke="#333333" stroke-width="0.28" font-family="Liberation Sans, sans-serif" text-rendering="geometricPrecision">0.75</text>
<line x1="35.10" x2="38.5" y1="654.5" y2="654.5" stroke="#262626" stroke-width="1.07"/>
<text x="33.10" y="658.10" text-anchor="end" font-size="9.4" fill="#333333" stroke="#333333" stroke-width="0.28" font-family="Liberation Sans, sans-serif" text-rendering="geometricPrecision">0.50</text>
<line x1="35.10" x2="38.5" y1="674.3" y2="674.3" stroke="#262626" stroke-width="1.07"/>
<text x="33.10" y="677.90" text-anchor="end" font-size="9.4" fill="#333333" stroke="#333333" stroke-width="0.28" font-family="Liberation Sans, sans-serif" text-rendering="geometricPrecision">0.25</text>
<line x1="35.10" x2="38.5" y1="693.9" y2="693.9" stroke="#262626" stroke-width="1.07"/>
<text x="33.10" y="697.50" text-anchor="end" font-size="9.4" fill="#333333" stroke="#333333" stroke-width="0.28" font-family="Liberation Sans, sans-serif" text-rendering="geometricPrecision">0.00</text>
<line x1="59.64" x2="59.64" y1="697.3" y2="700.5" stroke="#262626" stroke-width="1.07"/>
<text x="59.64" y="709.10" text-anchor="middle" font-size="9.4" fill="#333333" stroke="#333333" stroke-width="0.28" font-family="Liberation Sans, sans-serif" text-rendering="geometricPrecision">100</text>
<line x1="95.78" x2="95.78" y1="697.3" y2="700.5" stroke="#262626" stroke-width="1.07"/>
<text x="95.78" y="709.10" text-anchor="middle" font-size="9.4" fill="#333333" stroke="#333333" stroke-width="0.28" font-family="Liberation Sans, sans-serif" text-rendering="geometricPrecision">200</text>
<line x1="131.92" x2="131.92" y1="697.3" y2="700.5" stroke="#262626" stroke-width="1.07"/>
<text x="131.92" y="709.10" text-anchor="middle" font-size="9.4" fill="#333333" stroke="#333333" stroke-width="0.28" font-family="Liberation Sans, sans-serif" text-rendering="geometricPrecision">300</text>
<line x1="168.06" x2="168.06" y1="697.3" y2="700.5" stroke="#262626" stroke-width="1.07"/>
<text x="168.06" y="709.10" text-anchor="middle" font-size="9.4" fill="#333333" stroke="#333333" stroke-width="0.28" font-family="Liberation Sans, sans-serif" text-rendering="geometricPrecision">400</text>
<line x1="204.20" x2="204.20" y1="697.3" y2="700.5" stroke="#262626" stroke-width="1.07"/>
<text x="204.20" y="709.10" text-anchor="middle" font-size="9.4" fill="#333333" stroke="#333333" stroke-width="0.28" font-family="Liberation Sans, sans-serif" text-rendering="geometricPrecision">500</text>
<line x1="240.34" x2="240.34" y1="697.3" y2="700.5" stroke="#262626" stroke-width="1.07"/>
<text x="240.34" y="709.10" text-anchor="middle" font-size="9.4" fill="#333333" stroke="#333333" stroke-width="0.28" font-family="Liberation Sans, sans-serif" text-rendering="geometricPrecision">600</text>
<line x1="276.48" x2="276.48" y1="697.3" y2="700.5" stroke="#262626" stroke-width="1.07"/>
<text x="276.48" y="709.10" text-anchor="middle" font-size="9.4" fill="#333333" stroke="#333333" stroke-width="0.28" font-family="Liberation Sans, sans-serif" text-rendering="geometricPrecision">700</text>
<line x1="312.62" x2="312.62" y1="697.3" y2="700.5" stroke="#262626" stroke-width="1.07"/>
<text x="312.62" y="709.10" text-anchor="middle" font-size="9.4" fill="#333333" stroke="#333333" stroke-width="0.28" font-family="Liberation Sans, sans-serif" text-rendering="geometricPrecision">Europe</text>
<path d="M59.60,612.20L62.60,617.35L56.60,617.35Z" fill="#E0205E"/><path d="M59.60,634.40L62.60,639.55L56.60,639.55Z" fill="#59A329"/><path d="M59.60,638.20L62.60,643.35L56.60,643.35Z" fill="#010F62"/><circle cx="59.6" cy="648.7" r="2.2" fill="#010F62"/><circle cx="62.7" cy="649.1" r="2.2" fill="#010F62"/><path d="M59.60,647.60L62.60,652.75L56.60,652.75Z" fill="#F2AE1E"/><circle cx="59.6" cy="660.0" r="2.2" fill="#59A329"/><circle cx="59.6" cy="663.5" r="2.2" fill="#F2AE1E"/><rect x="57.55" y="665.75" width="4.1" height="4.1" fill="#F2AE1E"/><circle cx="59.6" cy="674.8" r="2.2" fill="#E0205E"/><rect x="57.55" y="680.85" width="4.1" height="4.1" fill="#59A329"/><rect x="57.55" y="677.75" width="4.1" height="4.1" fill="#010F62"/><rect x="57.55" y="687.95" width="4.1" height="4.1" fill="#E0205E"/><path d="M95.70,619.00L98.70,624.15L92.70,624.15Z" fill="#E0205E"/><path d="M95.70,638.20L98.70,643.35L92.70,643.35Z" fill="#59A329"/><path d="M95.70,641.70L98.70,646.85L92.70,646.85Z" fill="#010F62"/><path d="M95.70,649.90L98.70,655.05L92.70,655.05Z" fill="#F2AE1E"/><circle cx="95.7" cy="661.9" r="2.2" fill="#010F62"/><circle cx="101.6" cy="661.9" r="2.2" fill="#59A329"/><rect x="93.65" y="663.75" width="4.1" height="4.1" fill="#F2AE1E"/><rect x="93.65" y="665.75" width="4.1" height="4.1" fill="#F2AE1E"/><rect x="93.65" y="671.95" width="4.1" height="4.1" fill="#59A329"/><rect x="93.65" y="677.95" width="4.1" height="4.1" fill="#010F62"/><circle cx="95.7" cy="677.1" r="2.2" fill="#E0205E"/><rect x="93.65" y="687.35" width="4.1" height="4.1" fill="#E0205E"/><path d="M132.10,615.70L135.10,620.85L129.10,620.85Z" fill="#E0205E"/><path d="M132.10,639.00L135.10,644.15L129.10,644.15Z" fill="#010F62"/><path d="M136.70,638.20L139.70,643.35L133.70,643.35Z" fill="#59A329"/><path d="M132.10,647.60L135.10,652.75L129.10,652.75Z" fill="#F2AE1E"/><rect x="130.05" y="657.95" width="4.1" height="4.1" fill="#F2AE1E"/><circle cx="136.7" cy="661.1" r="2.2" fill="#59A329"/><rect x="130.05" y="663.35" width="4.1" height="4.1" fill="#59A329"/><circle cx="132.1" cy="663.5" r="2.2" fill="#010F62"/><circle cx="132.1" cy="668.9" r="2.2" fill="#E0205E"/><rect x="130.05" y="672.15" width="4.1" height="4.1" fill="#010F62"/><rect x="130.05" y="679.15" width="4.1" height="4.1" fill="#E0205E"/><path d="M168.30,628.90L171.30,634.05L165.30,634.05Z" fill="#E0205E"/><path d="M170.90,643.50L173.90,648.65L167.90,648.65Z" fill="#59A329"/><path d="M168.30,644.90L171.30,650.05L165.30,650.05Z" fill="#010F62"/><path d="M168.30,654.20L171.30,659.35L165.30,659.35Z" fill="#F2AE1E"/><rect x="166.25" y="663.95" width="4.1" height="4.1" fill="#F2AE1E"/><rect x="166.25" y="666.15" width="4.1" height="4.1" fill="#F2AE1E"/><circle cx="168.3" cy="671.3" r="2.2" fill="#59A329"/><rect x="171.25" y="668.65" width="4.1" height="4.1" fill="#59A329"/><circle cx="168.3" cy="673.6" r="2.2" fill="#010F62"/><rect x="166.25" y="679.75" width="4.1" height="4.1" fill="#010F62"/><rect x="166.25" y="687.35" width="4.1" height="4.1" fill="#E0205E"/><circle cx="173.6" cy="688.8" r="2.2" fill="#E0205E"/><path d="M204.30,627.10L207.30,632.25L201.30,632.25Z" fill="#E0205E"/><path d="M204.30,644.10L207.30,649.25L201.30,649.25Z" fill="#010F62"/><path d="M210.20,644.10L213.20,649.25L207.20,649.25Z" fill="#59A329"/><path d="M204.30,656.90L207.30,662.05L201.30,662.05Z" fill="#F2AE1E"/><circle cx="207.2" cy="664.3" r="2.2" fill="#F2AE1E"/><rect x="202.25" y="663.35" width="4.1" height="4.1" fill="#59A329"/><rect x="202.25" y="666.35" width="4.1" height="4.1" fill="#59A329"/><circle cx="204.3" cy="673.0" r="2.2" fill="#010F62"/><rect x="202.25" y="679.15" width="4.1" height="4.1" fill="#010F62"/><rect x="202.25" y="683.25" width="4.1" height="4.1" fill="#E0205E"/><path d="M240.40,633.60L243.40,638.75L237.40,638.75Z" fill="#E0205E"/><path d="M240.40,644.10L243.40,649.25L237.40,649.25Z" fill="#59A329"/><path d="M240.40,647.00L243.40,652.15L237.40,652.15Z" fill="#010F62"/><path d="M240.40,654.00L243.40,659.15L237.40,659.15Z" fill="#F2AE1E"/><rect x="238.35" y="659.35" width="4.1" height="4.1" fill="#F2AE1E"/><rect x="238.35" y="662.15" width="4.1" height="4.1" fill="#F2AE1E"/><rect x="238.35" y="668.45" width="4.1" height="4.1" fill="#59A329"/><circle cx="240.4" cy="675.4" r="2.2" fill="#010F62"/><rect x="238.35" y="677.95" width="4.1" height="4.1" fill="#010F62"/><rect x="238.35" y="681.75" width="4.1" height="4.1" fill="#E0205E"/><circle cx="243.8" cy="682.4" r="2.2" fill="#E0205E"/><path d="M276.60,633.60L279.60,638.75L273.60,638.75Z" fill="#E0205E"/><path d="M276.60,648.40L279.60,653.55L273.60,653.55Z" fill="#59A329"/><path d="M276.60,647.00L279.60,652.15L273.60,652.15Z" fill="#010F62"/><path d="M279.60,646.70L282.60,651.85L276.60,651.85Z" fill="#010F62"/><path d="M276.60,656.10L279.60,661.25L273.60,661.25Z" fill="#F2AE1E"/><circle cx="276.6" cy="662.5" r="2.2" fill="#F2AE1E"/><rect x="274.55" y="666.35" width="4.1" height="4.1" fill="#59A329"/><circle cx="280.4" cy="672.1" r="2.2" fill="#59A329"/><circle cx="276.6" cy="673.3" r="2.2" fill="#010F62"/><rect x="274.55" y="675.65" width="4.1" height="4.1" fill="#010F62"/><circle cx="276.6" cy="683.3" r="2.2" fill="#E0205E"/><rect x="274.55" y="691.75" width="4.1" height="4.1" fill="#E0205E"/><path d="M312.80,633.20L315.80,638.35L309.80,638.35Z" fill="#E0205E"/><path d="M312.80,642.10L315.80,647.25L309.80,647.25Z" fill="#59A329"/><path d="M312.80,646.40L315.80,651.55L309.80,651.55Z" fill="#010F62"/><rect x="305.85" y="653.45" width="4.1" height="4.1" fill="#59A329"/><rect x="310.75" y="653.75" width="4.1" height="4.1" fill="#F2AE1E"/><circle cx="317.4" cy="655.5" r="2.2" fill="#F2AE1E"/><rect x="310.75" y="661.65" width="4.1" height="4.1" fill="#F2AE1E"/><circle cx="316.6" cy="662.8" r="2.2" fill="#59A329"/><circle cx="312.8" cy="670.1" r="2.2" fill="#010F62"/><rect x="315.15" y="677.95" width="4.1" height="4.1" fill="#010F62"/><rect x="310.75" y="677.95" width="4.1" height="4.1" fill="#010F62"/><circle cx="312.8" cy="680.6" r="2.2" fill="#E0205E"/><rect x="310.75" y="684.35" width="4.1" height="4.1" fill="#E0205E"/>
<rect x="38.5" y="611.8" width="295.70" height="85.50" fill="none" stroke="#858585" stroke-width="1.07"/>
<line x1="383.8" x2="679.8" y1="636.8" y2="636.8" stroke="#EBEBEB" stroke-width="1.07"/>
<line x1="383.8" x2="679.8" y1="669.6" y2="669.6" stroke="#EBEBEB" stroke-width="1.07"/>
<line x1="405.28" x2="405.28" y1="611.8" y2="697.3" stroke="#EBEBEB" stroke-width="1.07"/>
<line x1="441.42" x2="441.42" y1="611.8" y2="697.3" stroke="#EBEBEB" stroke-width="1.07"/>
<line x1="477.56" x2="477.56" y1="611.8" y2="697.3" stroke="#EBEBEB" stroke-width="1.07"/>
<line x1="513.70" x2="513.70" y1="611.8" y2="697.3" stroke="#EBEBEB" stroke-width="1.07"/>
<line x1="549.84" x2="549.84" y1="611.8" y2="697.3" stroke="#EBEBEB" stroke-width="1.07"/>
<line x1="585.98" x2="585.98" y1="611.8" y2="697.3" stroke="#EBEBEB" stroke-width="1.07"/>
<line x1="622.12" x2="622.12" y1="611.8" y2="697.3" stroke="#EBEBEB" stroke-width="1.07"/>
<line x1="658.26" x2="658.26" y1="611.8" y2="697.3" stroke="#EBEBEB" stroke-width="1.07"/>
<line x1="380.40" x2="383.8" y1="636.8" y2="636.8" stroke="#262626" stroke-width="1.07"/>
<text x="378.40" y="640.40" text-anchor="end" font-size="9.4" fill="#333333" stroke="#333333" stroke-width="0.28" font-family="Liberation Sans, sans-serif" text-rendering="geometricPrecision">40</text>
<line x1="380.40" x2="383.8" y1="669.6" y2="669.6" stroke="#262626" stroke-width="1.07"/>
<text x="378.40" y="673.20" text-anchor="end" font-size="9.4" fill="#333333" stroke="#333333" stroke-width="0.28" font-family="Liberation Sans, sans-serif" text-rendering="geometricPrecision">30</text>
<line x1="405.28" x2="405.28" y1="697.3" y2="700.5" stroke="#262626" stroke-width="1.07"/>
<text x="405.28" y="709.10" text-anchor="middle" font-size="9.4" fill="#333333" stroke="#333333" stroke-width="0.28" font-family="Liberation Sans, sans-serif" text-rendering="geometricPrecision">100</text>
<line x1="441.42" x2="441.42" y1="697.3" y2="700.5" stroke="#262626" stroke-width="1.07"/>
<text x="441.42" y="709.10" text-anchor="middle" font-size="9.4" fill="#333333" stroke="#333333" stroke-width="0.28" font-family="Liberation Sans, sans-serif" text-rendering="geometricPrecision">200</text>
<line x1="477.56" x2="477.56" y1="697.3" y2="700.5" stroke="#262626" stroke-width="1.07"/>
<text x="477.56" y="709.10" text-anchor="middle" font-size="9.4" fill="#333333" stroke="#333333" stroke-width="0.28" font-family="Liberation Sans, sans-serif" text-rendering="geometricPrecision">300</text>
<line x1="513.70" x2="513.70" y1="697.3" y2="700.5" stroke="#262626" stroke-width="1.07"/>
<text x="513.70" y="709.10" text-anchor="middle" font-size="9.4" fill="#333333" stroke="#333333" stroke-width="0.28" font-family="Liberation Sans, sans-serif" text-rendering="geometricPrecision">400</text>
<line x1="549.84" x2="549.84" y1="697.3" y2="700.5" stroke="#262626" stroke-width="1.07"/>
<text x="549.84" y="709.10" text-anchor="middle" font-size="9.4" fill="#333333" stroke="#333333" stroke-width="0.28" font-family="Liberation Sans, sans-serif" text-rendering="geometricPrecision">500</text>
<line x1="585.98" x2="585.98" y1="697.3" y2="700.5" stroke="#262626" stroke-width="1.07"/>
<text x="585.98" y="709.10" text-anchor="middle" font-size="9.4" fill="#333333" stroke="#333333" stroke-width="0.28" font-family="Liberation Sans, sans-serif" text-rendering="geometricPrecision">600</text>
<line x1="622.12" x2="622.12" y1="697.3" y2="700.5" stroke="#262626" stroke-width="1.07"/>
<text x="622.12" y="709.10" text-anchor="middle" font-size="9.4" fill="#333333" stroke="#333333" stroke-width="0.28" font-family="Liberation Sans, sans-serif" text-rendering="geometricPrecision">700</text>
<line x1="658.26" x2="658.26" y1="697.3" y2="700.5" stroke="#262626" stroke-width="1.07"/>
<text x="658.26" y="709.10" text-anchor="middle" font-size="9.4" fill="#333333" stroke="#333333" stroke-width="0.28" font-family="Liberation Sans, sans-serif" text-rendering="geometricPrecision">Europe</text>
<path d="M405.30,646.70L408.30,651.85L402.30,651.85Z" fill="#E0205E"/><rect x="403.25" y="658.35" width="4.1" height="4.1" fill="#F2AE1E"/><circle cx="405.3" cy="662.5" r="2.2" fill="#F2AE1E"/><circle cx="405.3" cy="666.6" r="2.2" fill="#59A329"/><rect x="398.55" y="667.45" width="4.1" height="4.1" fill="#E0205E"/><circle cx="405.3" cy="670.1" r="2.2" fill="#010F62"/><path d="M411.10,667.40L414.10,672.55L408.10,672.55Z" fill="#010F62"/><circle cx="405.3" cy="674.4" r="2.2" fill="#E0205E"/><rect x="403.25" y="675.05" width="4.1" height="4.1" fill="#010F62"/><path d="M408.80,678.30L411.80,683.45L405.80,683.45Z" fill="#F2AE1E"/><circle cx="405.3" cy="680.6" r="2.2" fill="#F2AE1E"/><rect x="403.25" y="680.85" width="4.1" height="4.1" fill="#59A329"/><path d="M405.30,690.40L408.30,695.55L402.30,695.55Z" fill="#59A329"/><path d="M441.40,626.00L444.40,631.15L438.40,631.15Z" fill="#E0205E"/><rect x="439.35" y="650.55" width="4.1" height="4.1" fill="#59A329"/><rect x="442.85" y="650.55" width="4.1" height="4.1" fill="#59A329"/><circle cx="441.4" cy="653.8" r="2.2" fill="#E0205E"/><circle cx="441.4" cy="656.5" r="2.2" fill="#010F62"/><rect x="433.95" y="659.55" width="4.1" height="4.1" fill="#F2AE1E"/><circle cx="441.4" cy="660.8" r="2.2" fill="#F2AE1E"/><rect x="439.35" y="661.05" width="4.1" height="4.1" fill="#010F62"/><path d="M446.70,659.20L449.70,664.35L443.70,664.35Z" fill="#F2AE1E"/><path d="M451.90,658.70L454.90,663.85L448.90,663.85Z" fill="#010F62"/><rect x="437.05" y="666.85" width="4.1" height="4.1" fill="#E0205E"/><circle cx="441.4" cy="670.5" r="2.2" fill="#59A329"/><circle cx="444.4" cy="669.8" r="2.2" fill="#59A329"/><path d="M477.60,619.00L480.60,624.15L474.60,624.15Z" fill="#E0205E"/><rect x="475.55" y="628.95" width="4.1" height="4.1" fill="#010F62"/><rect x="475.55" y="631.05" width="4.1" height="4.1" fill="#59A329"/><circle cx="483.1" cy="630.8" r="2.2" fill="#E0205E"/><circle cx="477.6" cy="638.6" r="2.2" fill="#010F62"/><circle cx="479.9" cy="638.6" r="2.2" fill="#010F62"/><rect x="475.25" y="638.05" width="4.1" height="4.1" fill="#E0205E"/><circle cx="477.6" cy="646.0" r="2.2" fill="#59A329"/><circle cx="477.6" cy="649.1" r="2.2" fill="#F2AE1E"/><path d="M483.10,645.20L486.10,650.35L480.10,650.35Z" fill="#010F62"/><rect x="475.55" y="656.75" width="4.1" height="4.1" fill="#F2AE1E"/><path d="M477.60,667.40L480.60,672.55L474.60,672.55Z" fill="#59A329"/><path d="M477.60,671.30L480.60,676.45L474.60,676.45Z" fill="#F2AE1E"/><path d="M513.60,624.60L516.60,629.75L510.60,629.75Z" fill="#E0205E"/><path d="M513.60,630.60L516.60,635.75L510.60,635.75Z" fill="#010F62"/><rect x="511.55" y="635.95" width="4.1" height="4.1" fill="#E0205E"/><circle cx="513.6" cy="640.9" r="2.2" fill="#E0205E"/><rect x="516.05" y="638.55" width="4.1" height="4.1" fill="#F2AE1E"/><path d="M513.60,641.10L516.60,646.25L510.60,646.25Z" fill="#F2AE1E"/><rect x="511.55" y="645.25" width="4.1" height="4.1" fill="#59A329"/><circle cx="518.9" cy="647.1" r="2.2" fill="#59A329"/><path d="M508.80,649.30L511.80,654.45L505.80,654.45Z" fill="#59A329"/><circle cx="513.6" cy="653.2" r="2.2" fill="#F2AE1E"/><circle cx="518.9" cy="653.0" r="2.2" fill="#010F62"/><rect x="511.55" y="654.45" width="4.1" height="4.1" fill="#010F62"/><path d="M549.60,620.40L552.60,625.55L546.60,625.55Z" fill="#E0205E"/><rect x="547.55" y="624.25" width="4.1" height="4.1" fill="#010F62"/><circle cx="549.6" cy="628.9" r="2.2" fill="#F2AE1E"/><circle cx="549.6" cy="632.2" r="2.2" fill="#E0205E"/><rect x="547.55" y="632.65" width="4.1" height="4.1" fill="#F2AE1E"/><rect x="547.55" y="635.35" width="4.1" height="4.1" fill="#E0205E"/><circle cx="549.6" cy="640.1" r="2.2" fill="#010F62"/><path d="M549.60,641.70L552.60,646.85L546.60,646.85Z" fill="#010F62"/><path d="M549.60,644.90L552.60,650.05L546.60,650.05Z" fill="#59A329"/><rect x="553.05" y="629.55" width="4.1" height="4.1" fill="#59A329"/><circle cx="555.4" cy="640.1" r="2.2" fill="#59A329"/><path d="M554.70,644.40L557.70,649.55L551.70,649.55Z" fill="#F2AE1E"/><circle cx="586.0" cy="626.3" r="2.2" fill="#E0205E"/><path d="M586.00,626.00L589.00,631.15L583.00,631.15Z" fill="#E0205E"/><rect x="589.85" y="627.25" width="4.1" height="4.1" fill="#59A329"/><path d="M586.00,630.10L589.00,635.25L583.00,635.25Z" fill="#010F62"/><rect x="583.95" y="632.65" width="4.1" height="4.1" fill="#F2AE1E"/><rect x="583.95" y="635.35" width="4.1" height="4.1" fill="#E0205E"/><rect x="588.65" y="635.35" width="4.1" height="4.1" fill="#010F62"/><path d="M586.00,637.90L589.00,643.05L583.00,643.05Z" fill="#59A329"/><circle cx="586.0" cy="647.1" r="2.2" fill="#010F62"/><rect x="583.95" y="647.65" width="4.1" height="4.1" fill="#F2AE1E"/><circle cx="586.0" cy="652.2" r="2.2" fill="#59A329"/><path d="M586.00,653.40L589.00,658.55L583.00,658.55Z" fill="#F2AE1E"/><circle cx="591.6" cy="655.8" r="2.2" fill="#F2AE1E"/><path d="M618.00,618.00L621.00,623.15L615.00,623.15Z" fill="#F2AE1E"/><path d="M620.00,618.20L623.00,623.35L617.00,623.35Z" fill="#F2AE1E"/><path d="M622.10,619.00L625.10,624.15L619.10,624.15Z" fill="#E0205E"/><circle cx="626.2" cy="621.1" r="2.2" fill="#F2AE1E"/><path d="M622.10,628.90L625.10,634.05L619.10,634.05Z" fill="#010F62"/><rect x="625.85" y="629.85" width="4.1" height="4.1" fill="#59A329"/><circle cx="619.8" cy="635.1" r="2.2" fill="#E0205E"/><rect x="624.15" y="633.85" width="4.1" height="4.1" fill="#E0205E"/><rect x="620.05" y="634.75" width="4.1" height="4.1" fill="#010F62"/><rect x="620.05" y="638.85" width="4.1" height="4.1" fill="#F2AE1E"/><circle cx="622.1" cy="645.0" r="2.2" fill="#010F62"/><circle cx="623.0" cy="647.5" r="2.2" fill="#59A329"/><path d="M622.10,645.80L625.10,650.95L619.10,650.95Z" fill="#59A329"/><rect x="656.25" y="612.85" width="4.1" height="4.1" fill="#F2AE1E"/><circle cx="658.3" cy="623.1" r="2.2" fill="#E0205E"/><circle cx="658.3" cy="627.0" r="2.2" fill="#E0205E"/><path d="M658.30,626.30L661.30,631.45L655.30,631.45Z" fill="#E0205E"/><circle cx="653.6" cy="639.8" r="2.2" fill="#F2AE1E"/><rect x="656.25" y="638.25" width="4.1" height="4.1" fill="#F2AE1E"/><path d="M664.10,637.60L667.10,642.75L661.10,642.75Z" fill="#59A329"/><rect x="656.25" y="642.05" width="4.1" height="4.1" fill="#59A329"/><rect x="660.95" y="642.05" width="4.1" height="4.1" fill="#010F62"/><path d="M660.60,644.40L663.60,649.55L657.60,649.55Z" fill="#010F62"/><circle cx="657.9" cy="648.7" r="2.2" fill="#010F62"/>
<rect x="383.8" y="611.8" width="296.00" height="85.50" fill="none" stroke="#858585" stroke-width="1.07"/>
<text transform="translate(8.8,654.55) rotate(-90)" text-anchor="middle" font-size="11.8" fill="#000" stroke="#000" stroke-width="0.15" font-family="Liberation Sans, sans-serif" text-rendering="geometricPrecision">Uncertainty</text>
<text transform="translate(354.4,654.55) rotate(-90)" text-anchor="middle" font-size="11.8" fill="#000" stroke="#000" stroke-width="0.15" font-family="Liberation Sans, sans-serif" text-rendering="geometricPrecision">Area Suitable (%)</text>
<text x="38.2" y="9.0" font-size="11.8" fill="#000" stroke="#000" stroke-width="0.15" font-family="Liberation Sans, sans-serif" text-rendering="geometricPrecision">Internal Validation</text>
<text x="383.6" y="9.0" font-size="11.8" fill="#000" stroke="#000" stroke-width="0.15" font-family="Liberation Sans, sans-serif" text-rendering="geometricPrecision">External Validation</text>
<text x="186.35" y="723.0" text-anchor="middle" font-size="11.8" fill="#000" stroke="#000" stroke-width="0.15" font-family="Liberation Sans, sans-serif" text-rendering="geometricPrecision">Training Extent</text>
<text x="531.80" y="723.0" text-anchor="middle" font-size="11.8" fill="#000" stroke="#000" stroke-width="0.15" font-family="Liberation Sans, sans-serif" text-rendering="geometricPrecision">Training Extent</text>
<line x1="29.3" x2="340.8" y1="598.8" y2="598.8" stroke="#222" stroke-width="1.8" stroke-dasharray="4.3 4.3"/>
<line x1="370.1" x2="685" y1="598.8" y2="598.8" stroke="#222" stroke-width="1.8" stroke-dasharray="4.3 4.3"/>
<text x="66.6" y="750.6" font-size="11.8" fill="#000" stroke="#000" stroke-width="0.15" font-family="Liberation Sans, sans-serif" text-rendering="geometricPrecision">Model</text>
<rect x="109.5" y="742.4" width="8" height="8" fill="#000"/>
<text x="128" y="749.6999999999999" font-size="9.45" fill="#000" stroke="#000" stroke-width="0.2" font-family="Liberation Sans, sans-serif" text-rendering="geometricPrecision">GAM</text>
<circle cx="165" cy="746.4" r="4.3" fill="#000"/>
<text x="179.4" y="749.6999999999999" font-size="9.45" fill="#000" stroke="#000" stroke-width="0.2" font-family="Liberation Sans, sans-serif" text-rendering="geometricPrecision">MaxEnt</text>
<path d="M226.85,740.8 L232,749.6 L221.7,749.6 Z" fill="#000"/>
<text x="241.6" y="749.6999999999999" font-size="9.45" fill="#000" stroke="#000" stroke-width="0.2" font-family="Liberation Sans, sans-serif" text-rendering="geometricPrecision">RF</text>
<text x="278" y="750.6" font-size="11.8" fill="#000" stroke="#000" stroke-width="0.15" font-family="Liberation Sans, sans-serif" text-rendering="geometricPrecision">Variable</text>
<path d="M336,740.4 L342,746.4 L336,752.4 L330,746.4 Z" fill="#E0205E"/>
<text x="350.7" y="749.6999999999999" font-size="9.45" fill="#000" stroke="#000" stroke-width="0.2" font-family="Liberation Sans, sans-serif" text-rendering="geometricPrecision">Bioclimatic</text>
<path d="M411,740.4 L417,746.4 L411,752.4 L405,746.4 Z" fill="#F2AE1E"/>
<text x="425.3" y="749.6999999999999" font-size="9.45" fill="#000" stroke="#000" stroke-width="0.2" font-family="Liberation Sans, sans-serif" text-rendering="geometricPrecision">MODIS</text>
<path d="M471.7,740.4 L477.7,746.4 L471.7,752.4 L465.7,746.4 Z" fill="#59A329"/>
<text x="486.6" y="749.6999999999999" font-size="9.45" fill="#000" stroke="#000" stroke-width="0.2" font-family="Liberation Sans, sans-serif" text-rendering="geometricPrecision">TerraClimate</text>
<path d="M556.2,740.4 L562.2,746.4 L556.2,752.4 L550.2,746.4 Z" fill="#010F62"/>
<text x="570.9" y="749.6999999999999" font-size="9.45" fill="#000" stroke="#000" stroke-width="0.2" font-family="Liberation Sans, sans-serif" text-rendering="geometricPrecision">WorldClim</text>
</svg></body></html>
